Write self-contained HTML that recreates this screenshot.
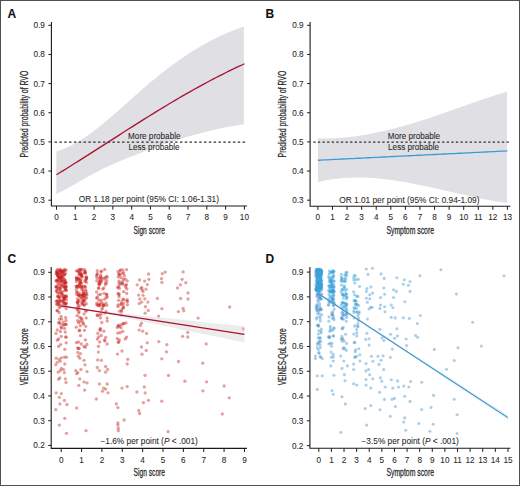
<!DOCTYPE html>
<html><head><meta charset="utf-8"><style>
html,body{margin:0;padding:0;background:#fff;}
body{width:520px;height:486px;overflow:hidden;}
svg{display:block;font-family:"Liberation Sans", sans-serif;}
text{stroke:#2a2a2a;stroke-width:0.08px;}
</style></head><body>
<svg width="520" height="486" viewBox="0 0 520 486">
<rect x="0" y="0" width="520" height="486" fill="#fff"/>
<path d="M56.30 151.53 L58.67 150.80 L61.05 149.97 L63.42 149.06 L65.80 148.07 L68.17 146.99 L70.55 145.83 L72.92 144.60 L75.30 143.30 L77.67 141.92 L80.05 140.48 L82.42 138.98 L84.80 137.41 L87.17 135.79 L89.55 134.12 L91.92 132.39 L94.29 130.61 L96.67 128.79 L99.04 126.93 L101.42 125.03 L103.79 123.09 L106.17 121.12 L108.54 119.12 L110.92 117.10 L113.29 115.05 L115.67 112.98 L118.04 110.89 L120.42 108.79 L122.79 106.68 L125.17 104.56 L127.54 102.44 L129.92 100.31 L132.29 98.19 L134.66 96.07 L137.04 93.95 L139.41 91.85 L141.79 89.76 L144.16 87.69 L146.54 85.64 L148.91 83.61 L151.29 81.60 L153.66 79.63 L156.04 77.68 L158.41 75.75 L160.79 73.86 L163.16 71.99 L165.54 70.15 L167.91 68.34 L170.28 66.56 L172.66 64.81 L175.03 63.08 L177.41 61.39 L179.78 59.72 L182.16 58.08 L184.53 56.48 L186.91 54.90 L189.28 53.35 L191.66 51.84 L194.03 50.35 L196.41 48.89 L198.78 47.47 L201.16 46.07 L203.53 44.71 L205.91 43.38 L208.28 42.08 L210.65 40.81 L213.03 39.58 L215.40 38.38 L217.78 37.21 L220.15 36.07 L222.53 34.96 L224.90 33.89 L227.28 32.85 L229.65 31.85 L232.03 30.88 L234.40 29.94 L236.78 29.04 L239.15 28.17 L241.53 27.33 L243.90 26.53 L243.90 124.18 L241.53 124.55 L239.15 124.93 L236.78 125.33 L234.40 125.75 L232.03 126.18 L229.65 126.62 L227.28 127.08 L224.90 127.55 L222.53 128.04 L220.15 128.55 L217.78 129.07 L215.40 129.60 L213.03 130.14 L210.65 130.70 L208.28 131.28 L205.91 131.86 L203.53 132.47 L201.16 133.08 L198.78 133.71 L196.41 134.35 L194.03 135.00 L191.66 135.67 L189.28 136.35 L186.91 137.04 L184.53 137.74 L182.16 138.46 L179.78 139.19 L177.41 139.93 L175.03 140.68 L172.66 141.45 L170.28 142.22 L167.91 143.01 L165.54 143.81 L163.16 144.62 L160.79 145.45 L158.41 146.28 L156.04 147.12 L153.66 147.98 L151.29 148.84 L148.91 149.72 L146.54 150.60 L144.16 151.50 L141.79 152.41 L139.41 153.32 L137.04 154.25 L134.66 155.19 L132.29 156.13 L129.92 157.09 L127.54 158.05 L125.17 159.03 L122.79 160.01 L120.42 161.00 L118.04 162.00 L115.67 163.01 L113.29 164.04 L110.92 165.09 L108.54 166.15 L106.17 167.24 L103.79 168.36 L101.42 169.51 L99.04 170.68 L96.67 171.89 L94.29 173.14 L91.92 174.41 L89.55 175.71 L87.17 177.04 L84.80 178.38 L82.42 179.73 L80.05 181.10 L77.67 182.46 L75.30 183.83 L72.92 185.20 L70.55 186.56 L68.17 187.90 L65.80 189.23 L63.42 190.54 L61.05 191.82 L58.67 193.06 L56.30 194.27 Z" fill="#e0dfe4"/>
<path d="M317.90 138.25 L320.29 138.33 L322.69 138.39 L325.08 138.41 L327.47 138.41 L329.87 138.37 L332.26 138.31 L334.66 138.21 L337.05 138.09 L339.44 137.95 L341.84 137.77 L344.23 137.57 L346.62 137.34 L349.02 137.09 L351.41 136.82 L353.81 136.52 L356.20 136.20 L358.59 135.85 L360.99 135.48 L363.38 135.10 L365.77 134.69 L368.17 134.26 L370.56 133.81 L372.95 133.34 L375.35 132.86 L377.74 132.36 L380.14 131.84 L382.53 131.30 L384.92 130.75 L387.32 130.18 L389.71 129.60 L392.10 129.00 L394.50 128.39 L396.89 127.76 L399.28 127.12 L401.68 126.46 L404.07 125.79 L406.47 125.11 L408.86 124.41 L411.25 123.70 L413.65 122.98 L416.04 122.25 L418.43 121.51 L420.83 120.75 L423.22 119.99 L425.62 119.21 L428.01 118.43 L430.40 117.63 L432.80 116.83 L435.19 116.02 L437.58 115.21 L439.98 114.39 L442.37 113.56 L444.76 112.73 L447.16 111.89 L449.55 111.06 L451.95 110.21 L454.34 109.37 L456.73 108.52 L459.13 107.68 L461.52 106.83 L463.91 105.99 L466.31 105.14 L468.70 104.30 L471.09 103.46 L473.49 102.62 L475.88 101.78 L478.28 100.95 L480.67 100.13 L483.06 99.31 L485.46 98.50 L487.85 97.70 L490.24 96.91 L492.64 96.13 L495.03 95.36 L497.43 94.61 L499.82 93.87 L502.21 93.15 L504.61 92.44 L507.00 91.75 L507.00 203.07 L504.61 202.73 L502.21 202.36 L499.82 201.98 L497.43 201.58 L495.03 201.17 L492.64 200.75 L490.24 200.31 L487.85 199.86 L485.46 199.40 L483.06 198.92 L480.67 198.44 L478.28 197.94 L475.88 197.44 L473.49 196.93 L471.09 196.41 L468.70 195.89 L466.31 195.36 L463.91 194.82 L461.52 194.28 L459.13 193.74 L456.73 193.19 L454.34 192.64 L451.95 192.09 L449.55 191.54 L447.16 190.99 L444.76 190.44 L442.37 189.89 L439.98 189.35 L437.58 188.80 L435.19 188.26 L432.80 187.73 L430.40 187.20 L428.01 186.68 L425.62 186.16 L423.22 185.65 L420.83 185.15 L418.43 184.66 L416.04 184.18 L413.65 183.71 L411.25 183.25 L408.86 182.80 L406.47 182.37 L404.07 181.95 L401.68 181.54 L399.28 181.15 L396.89 180.78 L394.50 180.42 L392.10 180.07 L389.71 179.75 L387.32 179.44 L384.92 179.16 L382.53 178.89 L380.14 178.65 L377.74 178.43 L375.35 178.23 L372.95 178.05 L370.56 177.90 L368.17 177.77 L365.77 177.67 L363.38 177.59 L360.99 177.54 L358.59 177.52 L356.20 177.52 L353.81 177.56 L351.41 177.63 L349.02 177.72 L346.62 177.85 L344.23 178.01 L341.84 178.20 L339.44 178.43 L337.05 178.69 L334.66 178.99 L332.26 179.32 L329.87 179.69 L327.47 180.09 L325.08 180.54 L322.69 181.02 L320.29 181.54 L317.90 182.11 Z" fill="#e0dfe4"/>
<line x1="54.60" y1="142.00" x2="247.00" y2="142.00" stroke="#2e2e2e" stroke-width="1.25" stroke-dasharray="2.45 2.37"/>
<line x1="313.30" y1="142.00" x2="510.40" y2="142.00" stroke="#2e2e2e" stroke-width="1.25" stroke-dasharray="2.3 2.3"/>
<path d="M56.50 174.71 L59.63 172.79 L62.76 170.87 L65.89 168.93 L69.03 166.98 L72.16 165.03 L75.29 163.06 L78.42 161.09 L81.55 159.11 L84.69 157.13 L87.82 155.14 L90.95 153.14 L94.08 151.14 L97.21 149.14 L100.34 147.13 L103.47 145.12 L106.61 143.11 L109.74 141.10 L112.87 139.09 L116.00 137.08 L119.13 135.08 L122.27 133.07 L125.40 131.07 L128.53 129.07 L131.66 127.08 L134.79 125.09 L137.92 123.11 L141.06 121.14 L144.19 119.17 L147.32 117.22 L150.45 115.27 L153.58 113.33 L156.71 111.40 L159.84 109.49 L162.98 107.58 L166.11 105.69 L169.24 103.81 L172.37 101.94 L175.50 100.09 L178.63 98.25 L181.77 96.43 L184.90 94.63 L188.03 92.83 L191.16 91.06 L194.29 89.30 L197.42 87.56 L200.56 85.84 L203.69 84.14 L206.82 82.45 L209.95 80.79 L213.08 79.14 L216.22 77.51 L219.35 75.90 L222.48 74.31 L225.61 72.75 L228.74 71.20 L231.87 69.67 L235.00 68.17 L238.14 66.68 L241.27 65.22 L244.40 63.77" fill="none" stroke="#a8132f" stroke-width="1.3"/>
<path d="M317.90 160.24 L321.06 160.09 L324.22 159.93 L327.38 159.78 L330.54 159.62 L333.69 159.47 L336.85 159.31 L340.01 159.16 L343.17 159.00 L346.33 158.85 L349.49 158.69 L352.65 158.54 L355.81 158.38 L358.97 158.23 L362.13 158.07 L365.28 157.92 L368.44 157.76 L371.60 157.61 L374.76 157.45 L377.92 157.29 L381.08 157.14 L384.24 156.98 L387.40 156.83 L390.56 156.67 L393.72 156.52 L396.88 156.36 L400.03 156.21 L403.19 156.05 L406.35 155.90 L409.51 155.74 L412.67 155.58 L415.83 155.43 L418.99 155.27 L422.15 155.12 L425.31 154.96 L428.46 154.80 L431.62 154.65 L434.78 154.49 L437.94 154.34 L441.10 154.18 L444.26 154.02 L447.42 153.87 L450.58 153.71 L453.74 153.56 L456.90 153.40 L460.05 153.24 L463.21 153.09 L466.37 152.93 L469.53 152.78 L472.69 152.62 L475.85 152.46 L479.01 152.31 L482.17 152.15 L485.33 151.99 L488.49 151.84 L491.64 151.68 L494.80 151.53 L497.96 151.37 L501.12 151.21 L504.28 151.06 L507.44 150.90" fill="none" stroke="#3a9ad6" stroke-width="1.3"/>
<path d="M51.40 22.00 V206.00 H247.00" fill="none" stroke="#1a1a1a" stroke-width="1.1"/>
<line x1="48.40" y1="200.20" x2="51.40" y2="200.20" stroke="#1a1a1a" stroke-width="1"/>
<text x="44.90" y="203.10" text-anchor="end" font-size="8.2" fill="#2a2a2a">0.3</text>
<line x1="48.40" y1="171.05" x2="51.40" y2="171.05" stroke="#1a1a1a" stroke-width="1"/>
<text x="44.90" y="173.95" text-anchor="end" font-size="8.2" fill="#2a2a2a">0.4</text>
<line x1="48.40" y1="141.90" x2="51.40" y2="141.90" stroke="#1a1a1a" stroke-width="1"/>
<text x="44.90" y="144.80" text-anchor="end" font-size="8.2" fill="#2a2a2a">0.5</text>
<line x1="48.40" y1="112.75" x2="51.40" y2="112.75" stroke="#1a1a1a" stroke-width="1"/>
<text x="44.90" y="115.65" text-anchor="end" font-size="8.2" fill="#2a2a2a">0.6</text>
<line x1="48.40" y1="83.60" x2="51.40" y2="83.60" stroke="#1a1a1a" stroke-width="1"/>
<text x="44.90" y="86.50" text-anchor="end" font-size="8.2" fill="#2a2a2a">0.7</text>
<line x1="48.40" y1="54.45" x2="51.40" y2="54.45" stroke="#1a1a1a" stroke-width="1"/>
<text x="44.90" y="57.35" text-anchor="end" font-size="8.2" fill="#2a2a2a">0.8</text>
<line x1="48.40" y1="25.30" x2="51.40" y2="25.30" stroke="#1a1a1a" stroke-width="1"/>
<text x="44.90" y="28.20" text-anchor="end" font-size="8.2" fill="#2a2a2a">0.9</text>
<line x1="56.50" y1="206.00" x2="56.50" y2="209.60" stroke="#1a1a1a" stroke-width="1"/>
<text x="56.50" y="220.20" text-anchor="middle" font-size="8.2" fill="#2a2a2a">0</text>
<line x1="75.29" y1="206.00" x2="75.29" y2="209.60" stroke="#1a1a1a" stroke-width="1"/>
<text x="75.29" y="220.20" text-anchor="middle" font-size="8.2" fill="#2a2a2a">1</text>
<line x1="94.08" y1="206.00" x2="94.08" y2="209.60" stroke="#1a1a1a" stroke-width="1"/>
<text x="94.08" y="220.20" text-anchor="middle" font-size="8.2" fill="#2a2a2a">2</text>
<line x1="112.87" y1="206.00" x2="112.87" y2="209.60" stroke="#1a1a1a" stroke-width="1"/>
<text x="112.87" y="220.20" text-anchor="middle" font-size="8.2" fill="#2a2a2a">3</text>
<line x1="131.66" y1="206.00" x2="131.66" y2="209.60" stroke="#1a1a1a" stroke-width="1"/>
<text x="131.66" y="220.20" text-anchor="middle" font-size="8.2" fill="#2a2a2a">4</text>
<line x1="150.45" y1="206.00" x2="150.45" y2="209.60" stroke="#1a1a1a" stroke-width="1"/>
<text x="150.45" y="220.20" text-anchor="middle" font-size="8.2" fill="#2a2a2a">5</text>
<line x1="169.24" y1="206.00" x2="169.24" y2="209.60" stroke="#1a1a1a" stroke-width="1"/>
<text x="169.24" y="220.20" text-anchor="middle" font-size="8.2" fill="#2a2a2a">6</text>
<line x1="188.03" y1="206.00" x2="188.03" y2="209.60" stroke="#1a1a1a" stroke-width="1"/>
<text x="188.03" y="220.20" text-anchor="middle" font-size="8.2" fill="#2a2a2a">7</text>
<line x1="206.82" y1="206.00" x2="206.82" y2="209.60" stroke="#1a1a1a" stroke-width="1"/>
<text x="206.82" y="220.20" text-anchor="middle" font-size="8.2" fill="#2a2a2a">8</text>
<line x1="225.61" y1="206.00" x2="225.61" y2="209.60" stroke="#1a1a1a" stroke-width="1"/>
<text x="225.61" y="220.20" text-anchor="middle" font-size="8.2" fill="#2a2a2a">9</text>
<line x1="244.40" y1="206.00" x2="244.40" y2="209.60" stroke="#1a1a1a" stroke-width="1"/>
<text x="244.40" y="220.20" text-anchor="middle" font-size="8.2" fill="#2a2a2a">10</text>
<path d="M310.10 22.00 V206.20 H510.40" fill="none" stroke="#1a1a1a" stroke-width="1.1"/>
<line x1="307.10" y1="200.20" x2="310.10" y2="200.20" stroke="#1a1a1a" stroke-width="1"/>
<text x="303.60" y="203.10" text-anchor="end" font-size="8.2" fill="#2a2a2a">0.3</text>
<line x1="307.10" y1="171.05" x2="310.10" y2="171.05" stroke="#1a1a1a" stroke-width="1"/>
<text x="303.60" y="173.95" text-anchor="end" font-size="8.2" fill="#2a2a2a">0.4</text>
<line x1="307.10" y1="141.90" x2="310.10" y2="141.90" stroke="#1a1a1a" stroke-width="1"/>
<text x="303.60" y="144.80" text-anchor="end" font-size="8.2" fill="#2a2a2a">0.5</text>
<line x1="307.10" y1="112.75" x2="310.10" y2="112.75" stroke="#1a1a1a" stroke-width="1"/>
<text x="303.60" y="115.65" text-anchor="end" font-size="8.2" fill="#2a2a2a">0.6</text>
<line x1="307.10" y1="83.60" x2="310.10" y2="83.60" stroke="#1a1a1a" stroke-width="1"/>
<text x="303.60" y="86.50" text-anchor="end" font-size="8.2" fill="#2a2a2a">0.7</text>
<line x1="307.10" y1="54.45" x2="310.10" y2="54.45" stroke="#1a1a1a" stroke-width="1"/>
<text x="303.60" y="57.35" text-anchor="end" font-size="8.2" fill="#2a2a2a">0.8</text>
<line x1="307.10" y1="25.30" x2="310.10" y2="25.30" stroke="#1a1a1a" stroke-width="1"/>
<text x="303.60" y="28.20" text-anchor="end" font-size="8.2" fill="#2a2a2a">0.9</text>
<line x1="317.90" y1="206.20" x2="317.90" y2="209.80" stroke="#1a1a1a" stroke-width="1"/>
<text x="317.90" y="220.40" text-anchor="middle" font-size="8.2" fill="#2a2a2a">0</text>
<line x1="332.48" y1="206.20" x2="332.48" y2="209.80" stroke="#1a1a1a" stroke-width="1"/>
<text x="332.48" y="220.40" text-anchor="middle" font-size="8.2" fill="#2a2a2a">1</text>
<line x1="347.06" y1="206.20" x2="347.06" y2="209.80" stroke="#1a1a1a" stroke-width="1"/>
<text x="347.06" y="220.40" text-anchor="middle" font-size="8.2" fill="#2a2a2a">2</text>
<line x1="361.64" y1="206.20" x2="361.64" y2="209.80" stroke="#1a1a1a" stroke-width="1"/>
<text x="361.64" y="220.40" text-anchor="middle" font-size="8.2" fill="#2a2a2a">3</text>
<line x1="376.22" y1="206.20" x2="376.22" y2="209.80" stroke="#1a1a1a" stroke-width="1"/>
<text x="376.22" y="220.40" text-anchor="middle" font-size="8.2" fill="#2a2a2a">4</text>
<line x1="390.80" y1="206.20" x2="390.80" y2="209.80" stroke="#1a1a1a" stroke-width="1"/>
<text x="390.80" y="220.40" text-anchor="middle" font-size="8.2" fill="#2a2a2a">5</text>
<line x1="405.38" y1="206.20" x2="405.38" y2="209.80" stroke="#1a1a1a" stroke-width="1"/>
<text x="405.38" y="220.40" text-anchor="middle" font-size="8.2" fill="#2a2a2a">6</text>
<line x1="419.96" y1="206.20" x2="419.96" y2="209.80" stroke="#1a1a1a" stroke-width="1"/>
<text x="419.96" y="220.40" text-anchor="middle" font-size="8.2" fill="#2a2a2a">7</text>
<line x1="434.54" y1="206.20" x2="434.54" y2="209.80" stroke="#1a1a1a" stroke-width="1"/>
<text x="434.54" y="220.40" text-anchor="middle" font-size="8.2" fill="#2a2a2a">8</text>
<line x1="449.12" y1="206.20" x2="449.12" y2="209.80" stroke="#1a1a1a" stroke-width="1"/>
<text x="449.12" y="220.40" text-anchor="middle" font-size="8.2" fill="#2a2a2a">9</text>
<line x1="463.70" y1="206.20" x2="463.70" y2="209.80" stroke="#1a1a1a" stroke-width="1"/>
<text x="463.70" y="220.40" text-anchor="middle" font-size="8.2" fill="#2a2a2a">10</text>
<line x1="478.28" y1="206.20" x2="478.28" y2="209.80" stroke="#1a1a1a" stroke-width="1"/>
<text x="478.28" y="220.40" text-anchor="middle" font-size="8.2" fill="#2a2a2a">11</text>
<line x1="492.86" y1="206.20" x2="492.86" y2="209.80" stroke="#1a1a1a" stroke-width="1"/>
<text x="492.86" y="220.40" text-anchor="middle" font-size="8.2" fill="#2a2a2a">12</text>
<line x1="507.44" y1="206.20" x2="507.44" y2="209.80" stroke="#1a1a1a" stroke-width="1"/>
<text x="507.44" y="220.40" text-anchor="middle" font-size="8.2" fill="#2a2a2a">13</text>
<path d="M51.20 267.00 V448.40 H246.90" fill="none" stroke="#1a1a1a" stroke-width="1.1"/>
<line x1="48.20" y1="445.41" x2="51.20" y2="445.41" stroke="#1a1a1a" stroke-width="1"/>
<text x="44.70" y="448.31" text-anchor="end" font-size="8.2" fill="#2a2a2a">0.2</text>
<line x1="48.20" y1="420.68" x2="51.20" y2="420.68" stroke="#1a1a1a" stroke-width="1"/>
<text x="44.70" y="423.58" text-anchor="end" font-size="8.2" fill="#2a2a2a">0.3</text>
<line x1="48.20" y1="395.95" x2="51.20" y2="395.95" stroke="#1a1a1a" stroke-width="1"/>
<text x="44.70" y="398.85" text-anchor="end" font-size="8.2" fill="#2a2a2a">0.4</text>
<line x1="48.20" y1="371.22" x2="51.20" y2="371.22" stroke="#1a1a1a" stroke-width="1"/>
<text x="44.70" y="374.12" text-anchor="end" font-size="8.2" fill="#2a2a2a">0.5</text>
<line x1="48.20" y1="346.49" x2="51.20" y2="346.49" stroke="#1a1a1a" stroke-width="1"/>
<text x="44.70" y="349.39" text-anchor="end" font-size="8.2" fill="#2a2a2a">0.6</text>
<line x1="48.20" y1="321.76" x2="51.20" y2="321.76" stroke="#1a1a1a" stroke-width="1"/>
<text x="44.70" y="324.66" text-anchor="end" font-size="8.2" fill="#2a2a2a">0.7</text>
<line x1="48.20" y1="297.03" x2="51.20" y2="297.03" stroke="#1a1a1a" stroke-width="1"/>
<text x="44.70" y="299.93" text-anchor="end" font-size="8.2" fill="#2a2a2a">0.8</text>
<line x1="48.20" y1="272.30" x2="51.20" y2="272.30" stroke="#1a1a1a" stroke-width="1"/>
<text x="44.70" y="275.20" text-anchor="end" font-size="8.2" fill="#2a2a2a">0.9</text>
<line x1="61.20" y1="448.40" x2="61.20" y2="452.00" stroke="#1a1a1a" stroke-width="1"/>
<text x="61.20" y="462.60" text-anchor="middle" font-size="8.2" fill="#2a2a2a">0</text>
<line x1="81.56" y1="448.40" x2="81.56" y2="452.00" stroke="#1a1a1a" stroke-width="1"/>
<text x="81.56" y="462.60" text-anchor="middle" font-size="8.2" fill="#2a2a2a">1</text>
<line x1="101.92" y1="448.40" x2="101.92" y2="452.00" stroke="#1a1a1a" stroke-width="1"/>
<text x="101.92" y="462.60" text-anchor="middle" font-size="8.2" fill="#2a2a2a">2</text>
<line x1="122.28" y1="448.40" x2="122.28" y2="452.00" stroke="#1a1a1a" stroke-width="1"/>
<text x="122.28" y="462.60" text-anchor="middle" font-size="8.2" fill="#2a2a2a">3</text>
<line x1="142.64" y1="448.40" x2="142.64" y2="452.00" stroke="#1a1a1a" stroke-width="1"/>
<text x="142.64" y="462.60" text-anchor="middle" font-size="8.2" fill="#2a2a2a">4</text>
<line x1="163.00" y1="448.40" x2="163.00" y2="452.00" stroke="#1a1a1a" stroke-width="1"/>
<text x="163.00" y="462.60" text-anchor="middle" font-size="8.2" fill="#2a2a2a">5</text>
<line x1="183.36" y1="448.40" x2="183.36" y2="452.00" stroke="#1a1a1a" stroke-width="1"/>
<text x="183.36" y="462.60" text-anchor="middle" font-size="8.2" fill="#2a2a2a">6</text>
<line x1="203.72" y1="448.40" x2="203.72" y2="452.00" stroke="#1a1a1a" stroke-width="1"/>
<text x="203.72" y="462.60" text-anchor="middle" font-size="8.2" fill="#2a2a2a">7</text>
<line x1="224.08" y1="448.40" x2="224.08" y2="452.00" stroke="#1a1a1a" stroke-width="1"/>
<text x="224.08" y="462.60" text-anchor="middle" font-size="8.2" fill="#2a2a2a">8</text>
<line x1="244.44" y1="448.40" x2="244.44" y2="452.00" stroke="#1a1a1a" stroke-width="1"/>
<text x="244.44" y="462.60" text-anchor="middle" font-size="8.2" fill="#2a2a2a">9</text>
<path d="M309.90 267.00 V448.30 H510.40" fill="none" stroke="#1a1a1a" stroke-width="1.1"/>
<line x1="306.90" y1="445.63" x2="309.90" y2="445.63" stroke="#1a1a1a" stroke-width="1"/>
<text x="303.40" y="448.53" text-anchor="end" font-size="8.2" fill="#2a2a2a">0.2</text>
<line x1="306.90" y1="420.84" x2="309.90" y2="420.84" stroke="#1a1a1a" stroke-width="1"/>
<text x="303.40" y="423.74" text-anchor="end" font-size="8.2" fill="#2a2a2a">0.3</text>
<line x1="306.90" y1="396.05" x2="309.90" y2="396.05" stroke="#1a1a1a" stroke-width="1"/>
<text x="303.40" y="398.95" text-anchor="end" font-size="8.2" fill="#2a2a2a">0.4</text>
<line x1="306.90" y1="371.26" x2="309.90" y2="371.26" stroke="#1a1a1a" stroke-width="1"/>
<text x="303.40" y="374.16" text-anchor="end" font-size="8.2" fill="#2a2a2a">0.5</text>
<line x1="306.90" y1="346.47" x2="309.90" y2="346.47" stroke="#1a1a1a" stroke-width="1"/>
<text x="303.40" y="349.37" text-anchor="end" font-size="8.2" fill="#2a2a2a">0.6</text>
<line x1="306.90" y1="321.68" x2="309.90" y2="321.68" stroke="#1a1a1a" stroke-width="1"/>
<text x="303.40" y="324.58" text-anchor="end" font-size="8.2" fill="#2a2a2a">0.7</text>
<line x1="306.90" y1="296.89" x2="309.90" y2="296.89" stroke="#1a1a1a" stroke-width="1"/>
<text x="303.40" y="299.79" text-anchor="end" font-size="8.2" fill="#2a2a2a">0.8</text>
<line x1="306.90" y1="272.10" x2="309.90" y2="272.10" stroke="#1a1a1a" stroke-width="1"/>
<text x="303.40" y="275.00" text-anchor="end" font-size="8.2" fill="#2a2a2a">0.9</text>
<line x1="318.80" y1="448.30" x2="318.80" y2="451.90" stroke="#1a1a1a" stroke-width="1"/>
<text x="318.80" y="462.50" text-anchor="middle" font-size="8.2" fill="#2a2a2a">0</text>
<line x1="331.41" y1="448.30" x2="331.41" y2="451.90" stroke="#1a1a1a" stroke-width="1"/>
<text x="331.41" y="462.50" text-anchor="middle" font-size="8.2" fill="#2a2a2a">1</text>
<line x1="344.02" y1="448.30" x2="344.02" y2="451.90" stroke="#1a1a1a" stroke-width="1"/>
<text x="344.02" y="462.50" text-anchor="middle" font-size="8.2" fill="#2a2a2a">2</text>
<line x1="356.63" y1="448.30" x2="356.63" y2="451.90" stroke="#1a1a1a" stroke-width="1"/>
<text x="356.63" y="462.50" text-anchor="middle" font-size="8.2" fill="#2a2a2a">3</text>
<line x1="369.24" y1="448.30" x2="369.24" y2="451.90" stroke="#1a1a1a" stroke-width="1"/>
<text x="369.24" y="462.50" text-anchor="middle" font-size="8.2" fill="#2a2a2a">4</text>
<line x1="381.85" y1="448.30" x2="381.85" y2="451.90" stroke="#1a1a1a" stroke-width="1"/>
<text x="381.85" y="462.50" text-anchor="middle" font-size="8.2" fill="#2a2a2a">5</text>
<line x1="394.46" y1="448.30" x2="394.46" y2="451.90" stroke="#1a1a1a" stroke-width="1"/>
<text x="394.46" y="462.50" text-anchor="middle" font-size="8.2" fill="#2a2a2a">6</text>
<line x1="407.07" y1="448.30" x2="407.07" y2="451.90" stroke="#1a1a1a" stroke-width="1"/>
<text x="407.07" y="462.50" text-anchor="middle" font-size="8.2" fill="#2a2a2a">7</text>
<line x1="419.68" y1="448.30" x2="419.68" y2="451.90" stroke="#1a1a1a" stroke-width="1"/>
<text x="419.68" y="462.50" text-anchor="middle" font-size="8.2" fill="#2a2a2a">8</text>
<line x1="432.29" y1="448.30" x2="432.29" y2="451.90" stroke="#1a1a1a" stroke-width="1"/>
<text x="432.29" y="462.50" text-anchor="middle" font-size="8.2" fill="#2a2a2a">9</text>
<line x1="444.90" y1="448.30" x2="444.90" y2="451.90" stroke="#1a1a1a" stroke-width="1"/>
<text x="444.90" y="462.50" text-anchor="middle" font-size="8.2" fill="#2a2a2a">10</text>
<line x1="457.51" y1="448.30" x2="457.51" y2="451.90" stroke="#1a1a1a" stroke-width="1"/>
<text x="457.51" y="462.50" text-anchor="middle" font-size="8.2" fill="#2a2a2a">11</text>
<line x1="470.12" y1="448.30" x2="470.12" y2="451.90" stroke="#1a1a1a" stroke-width="1"/>
<text x="470.12" y="462.50" text-anchor="middle" font-size="8.2" fill="#2a2a2a">12</text>
<line x1="482.73" y1="448.30" x2="482.73" y2="451.90" stroke="#1a1a1a" stroke-width="1"/>
<text x="482.73" y="462.50" text-anchor="middle" font-size="8.2" fill="#2a2a2a">13</text>
<line x1="495.34" y1="448.30" x2="495.34" y2="451.90" stroke="#1a1a1a" stroke-width="1"/>
<text x="495.34" y="462.50" text-anchor="middle" font-size="8.2" fill="#2a2a2a">14</text>
<line x1="507.95" y1="448.30" x2="507.95" y2="451.90" stroke="#1a1a1a" stroke-width="1"/>
<text x="507.95" y="462.50" text-anchor="middle" font-size="8.2" fill="#2a2a2a">15</text>
<text transform="translate(27.80 114.10) rotate(-90) scale(0.689 1)" text-anchor="middle" font-size="10" fill="#2a2a2a" style="stroke-width:0.25px">Predicted probability of RVO</text>
<text transform="translate(286.40 114.10) rotate(-90) scale(0.689 1)" text-anchor="middle" font-size="10" fill="#2a2a2a" style="stroke-width:0.25px">Predicted probability of RVO</text>
<text transform="translate(149.20 233.50) scale(0.665 1)" text-anchor="middle" font-size="10" fill="#2a2a2a" style="stroke-width:0.25px">Sign score</text>
<text transform="translate(410.20 233.60) scale(0.687 1)" text-anchor="middle" font-size="10" fill="#2a2a2a" style="stroke-width:0.25px">Symptom score</text>
<text transform="translate(27.50 356.80) rotate(-90) scale(0.662 1)" text-anchor="middle" font-size="10" fill="#2a2a2a" style="stroke-width:0.25px">VEINES-QoL score</text>
<text transform="translate(286.20 356.80) rotate(-90) scale(0.662 1)" text-anchor="middle" font-size="10" fill="#2a2a2a" style="stroke-width:0.25px">VEINES-QoL score</text>
<text transform="translate(149.30 476.00) scale(0.665 1)" text-anchor="middle" font-size="10" fill="#2a2a2a" style="stroke-width:0.25px">Sign score</text>
<text transform="translate(410.20 476.00) scale(0.687 1)" text-anchor="middle" font-size="10" fill="#2a2a2a" style="stroke-width:0.25px">Symptom score</text>
<text x="7.4" y="17.7" font-size="12" font-weight="bold" fill="#111">A</text>
<text x="265.6" y="17.7" font-size="12" font-weight="bold" fill="#111">B</text>
<text x="7.4" y="263.0" font-size="12" font-weight="bold" fill="#111">C</text>
<text x="265.6" y="262.9" font-size="12" font-weight="bold" fill="#111">D</text>
<text x="148.9" y="201.9" text-anchor="middle" font-size="8.3" fill="#2a2a2a">OR 1.18 per point (95% CI: 1.06-1.31)</text>
<text x="409.4" y="202.6" text-anchor="middle" font-size="8.3" fill="#2a2a2a">OR 1.01 per point (95% CI: 0.94-1.09)</text>
<text x="128.1" y="138.6" font-size="8.15" fill="#2a2a2a">More probable</text>
<text x="128.5" y="150.2" font-size="8.15" fill="#2a2a2a">Less probable</text>
<text x="387.7" y="138.6" font-size="8.15" fill="#2a2a2a">More probable</text>
<text x="388.1" y="150.2" font-size="8.15" fill="#2a2a2a">Less probable</text>
<text x="149.15" y="443.5" text-anchor="middle" font-size="8.3" fill="#2a2a2a">−1.6% per point (<tspan font-style="italic">P</tspan> &lt; .001)</text>
<text x="410.2" y="443.5" text-anchor="middle" font-size="8.3" fill="#2a2a2a">−3.5% per point (<tspan font-style="italic">P</tspan> &lt; .001)</text>
<g fill="#c8221f" fill-opacity="0.45"><circle cx="57.4" cy="279.9" r="1.65"/><circle cx="56.6" cy="290.6" r="1.65"/><circle cx="59.7" cy="286.8" r="1.65"/><circle cx="61.3" cy="271.2" r="1.65"/><circle cx="60.5" cy="270.6" r="1.65"/><circle cx="56.8" cy="271.6" r="1.65"/><circle cx="64.7" cy="283.2" r="1.65"/><circle cx="58.2" cy="273.4" r="1.65"/><circle cx="66.0" cy="289.8" r="1.65"/><circle cx="60.1" cy="288.2" r="1.65"/><circle cx="56.3" cy="301.2" r="1.65"/><circle cx="58.9" cy="297.4" r="1.65"/><circle cx="57.1" cy="274.0" r="1.65"/><circle cx="64.6" cy="279.4" r="1.65"/><circle cx="62.1" cy="275.2" r="1.65"/><circle cx="59.8" cy="290.2" r="1.65"/><circle cx="56.5" cy="287.2" r="1.65"/><circle cx="58.0" cy="271.3" r="1.65"/><circle cx="60.4" cy="291.5" r="1.65"/><circle cx="62.1" cy="279.6" r="1.65"/><circle cx="59.0" cy="284.1" r="1.65"/><circle cx="63.3" cy="295.3" r="1.65"/><circle cx="62.0" cy="277.3" r="1.65"/><circle cx="65.3" cy="286.5" r="1.65"/><circle cx="58.9" cy="293.1" r="1.65"/><circle cx="57.1" cy="301.3" r="1.65"/><circle cx="64.0" cy="283.0" r="1.65"/><circle cx="61.1" cy="274.3" r="1.65"/><circle cx="63.0" cy="270.6" r="1.65"/><circle cx="62.0" cy="294.3" r="1.65"/><circle cx="59.2" cy="297.9" r="1.65"/><circle cx="62.2" cy="292.0" r="1.65"/><circle cx="60.7" cy="288.3" r="1.65"/><circle cx="66.0" cy="296.8" r="1.65"/><circle cx="63.0" cy="284.8" r="1.65"/><circle cx="63.4" cy="271.3" r="1.65"/><circle cx="66.5" cy="290.5" r="1.65"/><circle cx="58.9" cy="296.2" r="1.65"/><circle cx="63.0" cy="281.9" r="1.65"/><circle cx="60.8" cy="270.1" r="1.65"/><circle cx="57.1" cy="274.8" r="1.65"/><circle cx="64.1" cy="271.3" r="1.65"/><circle cx="58.5" cy="273.6" r="1.65"/><circle cx="65.2" cy="282.1" r="1.65"/><circle cx="60.7" cy="272.0" r="1.65"/><circle cx="65.3" cy="287.3" r="1.65"/><circle cx="65.1" cy="296.1" r="1.65"/><circle cx="60.3" cy="278.4" r="1.65"/><circle cx="65.3" cy="281.0" r="1.65"/><circle cx="57.4" cy="300.6" r="1.65"/><circle cx="58.3" cy="275.1" r="1.65"/><circle cx="61.0" cy="276.9" r="1.65"/><circle cx="58.6" cy="288.6" r="1.65"/><circle cx="60.3" cy="269.5" r="1.65"/><circle cx="61.9" cy="281.4" r="1.65"/><circle cx="63.3" cy="300.4" r="1.65"/><circle cx="62.5" cy="286.2" r="1.65"/><circle cx="56.4" cy="291.4" r="1.65"/><circle cx="64.2" cy="298.7" r="1.65"/><circle cx="64.4" cy="297.9" r="1.65"/><circle cx="60.1" cy="282.1" r="1.65"/><circle cx="62.7" cy="272.7" r="1.65"/><circle cx="56.5" cy="271.4" r="1.65"/><circle cx="57.6" cy="276.1" r="1.65"/><circle cx="56.4" cy="280.4" r="1.65"/><circle cx="57.4" cy="269.3" r="1.65"/><circle cx="59.7" cy="272.6" r="1.65"/><circle cx="65.2" cy="270.2" r="1.65"/><circle cx="57.4" cy="289.4" r="1.65"/><circle cx="59.6" cy="277.6" r="1.65"/><circle cx="57.1" cy="281.2" r="1.65"/><circle cx="66.5" cy="297.0" r="1.65"/><circle cx="61.0" cy="284.5" r="1.65"/><circle cx="56.9" cy="272.1" r="1.65"/><circle cx="58.7" cy="280.5" r="1.65"/><circle cx="57.5" cy="296.4" r="1.65"/><circle cx="66.1" cy="270.1" r="1.65"/><circle cx="57.4" cy="286.6" r="1.65"/><circle cx="56.1" cy="287.1" r="1.65"/><circle cx="66.4" cy="286.6" r="1.65"/><circle cx="63.3" cy="297.5" r="1.65"/><circle cx="59.8" cy="277.9" r="1.65"/><circle cx="64.1" cy="274.8" r="1.65"/><circle cx="64.2" cy="286.7" r="1.65"/><circle cx="58.2" cy="280.1" r="1.65"/><circle cx="66.4" cy="295.8" r="1.65"/><circle cx="64.5" cy="297.2" r="1.65"/><circle cx="63.8" cy="296.0" r="1.65"/><circle cx="61.4" cy="276.7" r="1.65"/><circle cx="56.1" cy="280.9" r="1.65"/><circle cx="58.8" cy="270.2" r="1.65"/><circle cx="63.3" cy="277.8" r="1.65"/><circle cx="60.6" cy="300.6" r="1.65"/><circle cx="66.5" cy="299.9" r="1.65"/><circle cx="59.7" cy="300.5" r="1.65"/><circle cx="58.2" cy="276.5" r="1.65"/><circle cx="58.0" cy="275.8" r="1.65"/><circle cx="65.5" cy="289.7" r="1.65"/><circle cx="61.0" cy="296.8" r="1.65"/><circle cx="64.4" cy="290.6" r="1.65"/><circle cx="62.9" cy="272.1" r="1.65"/><circle cx="64.2" cy="299.0" r="1.65"/><circle cx="61.0" cy="293.8" r="1.65"/><circle cx="64.3" cy="275.2" r="1.65"/><circle cx="64.4" cy="280.2" r="1.65"/><circle cx="60.1" cy="301.1" r="1.65"/><circle cx="66.0" cy="282.4" r="1.65"/><circle cx="57.6" cy="293.0" r="1.65"/><circle cx="57.4" cy="273.5" r="1.65"/><circle cx="64.5" cy="298.9" r="1.65"/><circle cx="64.7" cy="274.1" r="1.65"/><circle cx="62.9" cy="301.3" r="1.65"/><circle cx="61.7" cy="280.8" r="1.65"/><circle cx="56.0" cy="273.6" r="1.65"/><circle cx="62.8" cy="301.0" r="1.65"/><circle cx="65.9" cy="286.5" r="1.65"/><circle cx="65.2" cy="283.5" r="1.65"/><circle cx="58.1" cy="296.3" r="1.65"/><circle cx="59.0" cy="277.6" r="1.65"/><circle cx="62.1" cy="277.2" r="1.65"/><circle cx="60.3" cy="277.8" r="1.65"/><circle cx="65.6" cy="273.6" r="1.65"/><circle cx="60.7" cy="280.9" r="1.65"/><circle cx="65.6" cy="288.4" r="1.65"/><circle cx="65.7" cy="283.1" r="1.65"/><circle cx="61.5" cy="285.7" r="1.65"/><circle cx="56.0" cy="286.4" r="1.65"/><circle cx="57.8" cy="283.7" r="1.65"/><circle cx="64.4" cy="269.5" r="1.65"/><circle cx="60.9" cy="275.0" r="1.65"/><circle cx="61.8" cy="293.0" r="1.65"/><circle cx="61.4" cy="280.0" r="1.65"/><circle cx="64.3" cy="287.5" r="1.65"/><circle cx="61.9" cy="272.8" r="1.65"/><circle cx="58.8" cy="277.4" r="1.65"/><circle cx="61.3" cy="336.3" r="1.65"/><circle cx="64.0" cy="324.6" r="1.65"/><circle cx="60.6" cy="344.6" r="1.65"/><circle cx="61.3" cy="327.3" r="1.65"/><circle cx="63.3" cy="322.1" r="1.65"/><circle cx="61.6" cy="319.1" r="1.65"/><circle cx="66.0" cy="320.4" r="1.65"/><circle cx="65.3" cy="332.1" r="1.65"/><circle cx="58.6" cy="346.4" r="1.65"/><circle cx="66.0" cy="324.5" r="1.65"/><circle cx="57.3" cy="340.2" r="1.65"/><circle cx="60.6" cy="305.1" r="1.65"/><circle cx="58.4" cy="303.6" r="1.65"/><circle cx="63.0" cy="303.6" r="1.65"/><circle cx="65.5" cy="336.9" r="1.65"/><circle cx="63.5" cy="306.2" r="1.65"/><circle cx="57.3" cy="329.9" r="1.65"/><circle cx="66.2" cy="342.8" r="1.65"/><circle cx="66.1" cy="308.7" r="1.65"/><circle cx="61.1" cy="316.5" r="1.65"/><circle cx="64.8" cy="349.3" r="1.65"/><circle cx="60.5" cy="306.5" r="1.65"/><circle cx="59.5" cy="322.3" r="1.65"/><circle cx="59.2" cy="307.7" r="1.65"/><circle cx="56.0" cy="333.4" r="1.65"/><circle cx="60.6" cy="324.2" r="1.65"/><circle cx="59.4" cy="302.2" r="1.65"/><circle cx="61.3" cy="328.0" r="1.65"/><circle cx="66.4" cy="303.3" r="1.65"/><circle cx="66.3" cy="337.2" r="1.65"/><circle cx="58.7" cy="304.5" r="1.65"/><circle cx="64.2" cy="302.7" r="1.65"/><circle cx="57.2" cy="310.7" r="1.65"/><circle cx="65.6" cy="317.6" r="1.65"/><circle cx="58.6" cy="339.0" r="1.65"/><circle cx="65.7" cy="306.0" r="1.65"/><circle cx="63.4" cy="325.1" r="1.65"/><circle cx="56.4" cy="304.1" r="1.65"/><circle cx="60.4" cy="331.5" r="1.65"/><circle cx="65.9" cy="303.6" r="1.65"/><circle cx="64.5" cy="328.5" r="1.65"/><circle cx="65.0" cy="303.9" r="1.65"/><circle cx="65.1" cy="303.4" r="1.65"/><circle cx="59.5" cy="319.2" r="1.65"/><circle cx="65.8" cy="324.2" r="1.65"/><circle cx="57.2" cy="310.6" r="1.65"/><circle cx="58.4" cy="322.8" r="1.65"/><circle cx="57.5" cy="304.7" r="1.65"/><circle cx="58.0" cy="303.0" r="1.65"/><circle cx="59.1" cy="312.5" r="1.65"/><circle cx="79.3" cy="296.0" r="1.65"/><circle cx="78.1" cy="286.9" r="1.65"/><circle cx="76.4" cy="281.5" r="1.65"/><circle cx="76.3" cy="278.1" r="1.65"/><circle cx="82.1" cy="295.1" r="1.65"/><circle cx="81.3" cy="276.0" r="1.65"/><circle cx="77.3" cy="302.2" r="1.65"/><circle cx="80.8" cy="298.1" r="1.65"/><circle cx="85.2" cy="286.7" r="1.65"/><circle cx="81.6" cy="283.1" r="1.65"/><circle cx="86.8" cy="293.5" r="1.65"/><circle cx="85.1" cy="281.4" r="1.65"/><circle cx="83.0" cy="294.2" r="1.65"/><circle cx="79.9" cy="283.5" r="1.65"/><circle cx="77.6" cy="271.2" r="1.65"/><circle cx="84.2" cy="271.8" r="1.65"/><circle cx="77.9" cy="278.3" r="1.65"/><circle cx="85.2" cy="272.3" r="1.65"/><circle cx="83.4" cy="299.9" r="1.65"/><circle cx="78.8" cy="279.2" r="1.65"/><circle cx="81.1" cy="279.6" r="1.65"/><circle cx="81.0" cy="274.9" r="1.65"/><circle cx="86.5" cy="278.6" r="1.65"/><circle cx="82.1" cy="303.5" r="1.65"/><circle cx="86.6" cy="277.9" r="1.65"/><circle cx="80.0" cy="280.2" r="1.65"/><circle cx="80.3" cy="269.4" r="1.65"/><circle cx="81.6" cy="286.0" r="1.65"/><circle cx="81.6" cy="276.4" r="1.65"/><circle cx="79.0" cy="269.5" r="1.65"/><circle cx="80.5" cy="272.5" r="1.65"/><circle cx="76.4" cy="270.8" r="1.65"/><circle cx="78.7" cy="280.0" r="1.65"/><circle cx="81.9" cy="289.9" r="1.65"/><circle cx="83.3" cy="295.7" r="1.65"/><circle cx="85.7" cy="294.5" r="1.65"/><circle cx="79.7" cy="283.0" r="1.65"/><circle cx="77.8" cy="303.9" r="1.65"/><circle cx="83.1" cy="294.8" r="1.65"/><circle cx="85.2" cy="270.9" r="1.65"/><circle cx="82.9" cy="300.7" r="1.65"/><circle cx="84.9" cy="295.1" r="1.65"/><circle cx="81.8" cy="274.2" r="1.65"/><circle cx="85.2" cy="287.0" r="1.65"/><circle cx="85.1" cy="297.6" r="1.65"/><circle cx="85.8" cy="289.8" r="1.65"/><circle cx="83.6" cy="293.3" r="1.65"/><circle cx="76.5" cy="277.4" r="1.65"/><circle cx="80.1" cy="274.0" r="1.65"/><circle cx="85.2" cy="273.0" r="1.65"/><circle cx="82.9" cy="288.9" r="1.65"/><circle cx="83.5" cy="291.3" r="1.65"/><circle cx="76.2" cy="286.5" r="1.65"/><circle cx="84.2" cy="297.3" r="1.65"/><circle cx="81.9" cy="287.0" r="1.65"/><circle cx="76.9" cy="292.5" r="1.65"/><circle cx="78.9" cy="295.2" r="1.65"/><circle cx="79.0" cy="271.9" r="1.65"/><circle cx="78.4" cy="294.9" r="1.65"/><circle cx="86.7" cy="295.3" r="1.65"/><circle cx="80.3" cy="286.7" r="1.65"/><circle cx="83.5" cy="286.2" r="1.65"/><circle cx="82.8" cy="296.3" r="1.65"/><circle cx="77.0" cy="291.9" r="1.65"/><circle cx="78.9" cy="274.5" r="1.65"/><circle cx="79.4" cy="295.4" r="1.65"/><circle cx="76.3" cy="289.3" r="1.65"/><circle cx="79.1" cy="271.5" r="1.65"/><circle cx="83.6" cy="292.9" r="1.65"/><circle cx="79.3" cy="293.1" r="1.65"/><circle cx="81.2" cy="287.5" r="1.65"/><circle cx="77.4" cy="285.7" r="1.65"/><circle cx="78.3" cy="300.7" r="1.65"/><circle cx="86.3" cy="303.7" r="1.65"/><circle cx="81.1" cy="269.9" r="1.65"/><circle cx="86.6" cy="298.1" r="1.65"/><circle cx="79.1" cy="285.1" r="1.65"/><circle cx="86.4" cy="276.7" r="1.65"/><circle cx="82.4" cy="276.7" r="1.65"/><circle cx="81.8" cy="274.3" r="1.65"/><circle cx="77.6" cy="302.8" r="1.65"/><circle cx="81.7" cy="298.1" r="1.65"/><circle cx="83.8" cy="300.5" r="1.65"/><circle cx="85.9" cy="277.5" r="1.65"/><circle cx="76.4" cy="286.4" r="1.65"/><circle cx="81.5" cy="269.5" r="1.65"/><circle cx="79.4" cy="285.2" r="1.65"/><circle cx="79.9" cy="274.3" r="1.65"/><circle cx="85.2" cy="280.4" r="1.65"/><circle cx="84.3" cy="269.4" r="1.65"/><circle cx="77.5" cy="298.8" r="1.65"/><circle cx="83.9" cy="301.9" r="1.65"/><circle cx="79.3" cy="301.0" r="1.65"/><circle cx="80.4" cy="282.4" r="1.65"/><circle cx="82.5" cy="304.4" r="1.65"/><circle cx="80.8" cy="282.0" r="1.65"/><circle cx="76.7" cy="279.0" r="1.65"/><circle cx="85.2" cy="272.9" r="1.65"/><circle cx="86.3" cy="279.4" r="1.65"/><circle cx="79.0" cy="278.1" r="1.65"/><circle cx="78.2" cy="287.3" r="1.65"/><circle cx="86.5" cy="282.4" r="1.65"/><circle cx="84.9" cy="300.4" r="1.65"/><circle cx="86.0" cy="291.5" r="1.65"/><circle cx="82.1" cy="302.4" r="1.65"/><circle cx="76.7" cy="294.6" r="1.65"/><circle cx="81.0" cy="295.1" r="1.65"/><circle cx="83.1" cy="295.8" r="1.65"/><circle cx="76.7" cy="279.4" r="1.65"/><circle cx="77.5" cy="301.9" r="1.65"/><circle cx="79.9" cy="321.6" r="1.65"/><circle cx="84.1" cy="313.9" r="1.65"/><circle cx="79.0" cy="348.6" r="1.65"/><circle cx="79.4" cy="330.8" r="1.65"/><circle cx="80.4" cy="325.7" r="1.65"/><circle cx="77.9" cy="308.9" r="1.65"/><circle cx="85.9" cy="310.4" r="1.65"/><circle cx="78.5" cy="322.8" r="1.65"/><circle cx="86.9" cy="344.5" r="1.65"/><circle cx="77.7" cy="320.6" r="1.65"/><circle cx="77.1" cy="309.8" r="1.65"/><circle cx="77.1" cy="315.7" r="1.65"/><circle cx="79.0" cy="311.5" r="1.65"/><circle cx="85.7" cy="326.3" r="1.65"/><circle cx="80.6" cy="335.7" r="1.65"/><circle cx="81.8" cy="318.9" r="1.65"/><circle cx="79.8" cy="317.2" r="1.65"/><circle cx="79.2" cy="305.7" r="1.65"/><circle cx="77.5" cy="348.0" r="1.65"/><circle cx="83.0" cy="323.1" r="1.65"/><circle cx="78.5" cy="342.0" r="1.65"/><circle cx="78.8" cy="312.8" r="1.65"/><circle cx="81.0" cy="318.3" r="1.65"/><circle cx="85.3" cy="347.2" r="1.65"/><circle cx="76.4" cy="342.6" r="1.65"/><circle cx="83.8" cy="305.0" r="1.65"/><circle cx="81.3" cy="343.9" r="1.65"/><circle cx="76.2" cy="327.2" r="1.65"/><circle cx="86.2" cy="317.9" r="1.65"/><circle cx="85.4" cy="339.9" r="1.65"/><circle cx="78.8" cy="348.3" r="1.65"/><circle cx="77.8" cy="307.0" r="1.65"/><circle cx="83.5" cy="324.0" r="1.65"/><circle cx="84.0" cy="346.5" r="1.65"/><circle cx="84.4" cy="330.3" r="1.65"/><circle cx="82.1" cy="320.9" r="1.65"/><circle cx="84.6" cy="305.1" r="1.65"/><circle cx="86.1" cy="311.3" r="1.65"/><circle cx="79.4" cy="330.2" r="1.65"/><circle cx="78.9" cy="307.6" r="1.65"/><circle cx="104.1" cy="293.3" r="1.65"/><circle cx="97.3" cy="273.5" r="1.65"/><circle cx="102.8" cy="289.0" r="1.65"/><circle cx="98.9" cy="283.9" r="1.65"/><circle cx="96.6" cy="291.9" r="1.65"/><circle cx="101.5" cy="280.7" r="1.65"/><circle cx="103.5" cy="305.4" r="1.65"/><circle cx="101.7" cy="302.6" r="1.65"/><circle cx="99.2" cy="278.2" r="1.65"/><circle cx="104.1" cy="305.4" r="1.65"/><circle cx="96.8" cy="280.9" r="1.65"/><circle cx="103.8" cy="288.1" r="1.65"/><circle cx="99.3" cy="285.1" r="1.65"/><circle cx="106.5" cy="294.4" r="1.65"/><circle cx="96.9" cy="277.9" r="1.65"/><circle cx="101.1" cy="282.0" r="1.65"/><circle cx="98.7" cy="295.0" r="1.65"/><circle cx="104.5" cy="299.3" r="1.65"/><circle cx="98.7" cy="288.3" r="1.65"/><circle cx="99.9" cy="305.8" r="1.65"/><circle cx="99.0" cy="300.2" r="1.65"/><circle cx="104.7" cy="277.7" r="1.65"/><circle cx="106.8" cy="280.4" r="1.65"/><circle cx="98.5" cy="288.0" r="1.65"/><circle cx="101.0" cy="277.7" r="1.65"/><circle cx="106.8" cy="294.3" r="1.65"/><circle cx="100.8" cy="274.8" r="1.65"/><circle cx="107.0" cy="277.3" r="1.65"/><circle cx="97.1" cy="274.7" r="1.65"/><circle cx="100.8" cy="271.6" r="1.65"/><circle cx="106.1" cy="303.1" r="1.65"/><circle cx="107.3" cy="296.9" r="1.65"/><circle cx="100.1" cy="304.4" r="1.65"/><circle cx="106.6" cy="276.3" r="1.65"/><circle cx="96.9" cy="297.4" r="1.65"/><circle cx="100.6" cy="294.3" r="1.65"/><circle cx="100.1" cy="283.4" r="1.65"/><circle cx="96.6" cy="275.7" r="1.65"/><circle cx="100.3" cy="279.9" r="1.65"/><circle cx="97.9" cy="305.2" r="1.65"/><circle cx="98.8" cy="305.6" r="1.65"/><circle cx="105.4" cy="282.7" r="1.65"/><circle cx="101.2" cy="300.2" r="1.65"/><circle cx="101.6" cy="271.2" r="1.65"/><circle cx="106.5" cy="283.3" r="1.65"/><circle cx="100.5" cy="276.6" r="1.65"/><circle cx="96.8" cy="303.1" r="1.65"/><circle cx="105.3" cy="284.8" r="1.65"/><circle cx="97.0" cy="298.2" r="1.65"/><circle cx="97.2" cy="270.6" r="1.65"/><circle cx="99.3" cy="303.9" r="1.65"/><circle cx="106.2" cy="297.4" r="1.65"/><circle cx="99.5" cy="282.1" r="1.65"/><circle cx="103.2" cy="305.3" r="1.65"/><circle cx="104.3" cy="279.2" r="1.65"/><circle cx="99.5" cy="281.2" r="1.65"/><circle cx="104.7" cy="269.5" r="1.65"/><circle cx="103.4" cy="303.8" r="1.65"/><circle cx="96.8" cy="304.8" r="1.65"/><circle cx="101.7" cy="278.1" r="1.65"/><circle cx="106.8" cy="305.3" r="1.65"/><circle cx="99.2" cy="283.9" r="1.65"/><circle cx="101.8" cy="322.5" r="1.65"/><circle cx="98.5" cy="346.3" r="1.65"/><circle cx="104.5" cy="340.0" r="1.65"/><circle cx="104.9" cy="341.0" r="1.65"/><circle cx="100.1" cy="330.6" r="1.65"/><circle cx="100.4" cy="317.9" r="1.65"/><circle cx="97.4" cy="339.0" r="1.65"/><circle cx="104.7" cy="313.1" r="1.65"/><circle cx="97.2" cy="315.0" r="1.65"/><circle cx="102.5" cy="307.7" r="1.65"/><circle cx="107.1" cy="318.1" r="1.65"/><circle cx="107.2" cy="344.0" r="1.65"/><circle cx="97.4" cy="315.7" r="1.65"/><circle cx="101.9" cy="309.5" r="1.65"/><circle cx="101.3" cy="335.4" r="1.65"/><circle cx="101.0" cy="314.5" r="1.65"/><circle cx="103.8" cy="331.2" r="1.65"/><circle cx="105.7" cy="337.3" r="1.65"/><circle cx="97.8" cy="333.3" r="1.65"/><circle cx="99.7" cy="341.9" r="1.65"/><circle cx="100.5" cy="328.7" r="1.65"/><circle cx="98.7" cy="336.8" r="1.65"/><circle cx="99.2" cy="315.0" r="1.65"/><circle cx="106.1" cy="311.5" r="1.65"/><circle cx="100.0" cy="329.2" r="1.65"/><circle cx="107.2" cy="321.1" r="1.65"/><circle cx="119.4" cy="288.4" r="1.65"/><circle cx="123.9" cy="299.7" r="1.65"/><circle cx="118.0" cy="306.6" r="1.65"/><circle cx="125.7" cy="287.2" r="1.65"/><circle cx="126.8" cy="300.9" r="1.65"/><circle cx="120.1" cy="270.8" r="1.65"/><circle cx="118.9" cy="273.8" r="1.65"/><circle cx="123.2" cy="305.9" r="1.65"/><circle cx="120.9" cy="304.3" r="1.65"/><circle cx="121.7" cy="301.9" r="1.65"/><circle cx="125.3" cy="279.1" r="1.65"/><circle cx="118.0" cy="304.9" r="1.65"/><circle cx="123.6" cy="291.7" r="1.65"/><circle cx="120.9" cy="277.5" r="1.65"/><circle cx="119.1" cy="274.6" r="1.65"/><circle cx="123.4" cy="278.9" r="1.65"/><circle cx="119.1" cy="293.8" r="1.65"/><circle cx="120.4" cy="269.8" r="1.65"/><circle cx="118.9" cy="294.8" r="1.65"/><circle cx="119.1" cy="281.1" r="1.65"/><circle cx="122.8" cy="299.2" r="1.65"/><circle cx="118.0" cy="271.7" r="1.65"/><circle cx="122.8" cy="284.2" r="1.65"/><circle cx="117.9" cy="293.4" r="1.65"/><circle cx="124.4" cy="275.5" r="1.65"/><circle cx="119.9" cy="284.7" r="1.65"/><circle cx="127.2" cy="280.9" r="1.65"/><circle cx="123.0" cy="281.1" r="1.65"/><circle cx="121.4" cy="282.8" r="1.65"/><circle cx="127.6" cy="301.8" r="1.65"/><circle cx="119.0" cy="283.0" r="1.65"/><circle cx="119.1" cy="296.7" r="1.65"/><circle cx="126.6" cy="269.6" r="1.65"/><circle cx="125.7" cy="285.3" r="1.65"/><circle cx="126.4" cy="284.6" r="1.65"/><circle cx="118.6" cy="286.7" r="1.65"/><circle cx="122.8" cy="269.9" r="1.65"/><circle cx="126.7" cy="293.4" r="1.65"/><circle cx="123.6" cy="272.7" r="1.65"/><circle cx="122.3" cy="283.3" r="1.65"/><circle cx="119.9" cy="274.8" r="1.65"/><circle cx="126.9" cy="288.9" r="1.65"/><circle cx="122.2" cy="273.4" r="1.65"/><circle cx="127.3" cy="299.6" r="1.65"/><circle cx="118.2" cy="276.8" r="1.65"/><circle cx="127.4" cy="304.8" r="1.65"/><circle cx="117.5" cy="287.5" r="1.65"/><circle cx="121.1" cy="304.1" r="1.65"/><circle cx="123.6" cy="303.3" r="1.65"/><circle cx="118.6" cy="300.3" r="1.65"/><circle cx="119.3" cy="339.9" r="1.65"/><circle cx="126.0" cy="322.8" r="1.65"/><circle cx="118.9" cy="341.9" r="1.65"/><circle cx="121.2" cy="315.0" r="1.65"/><circle cx="121.0" cy="327.8" r="1.65"/><circle cx="119.5" cy="311.2" r="1.65"/><circle cx="126.6" cy="337.1" r="1.65"/><circle cx="123.0" cy="308.2" r="1.65"/><circle cx="117.3" cy="338.6" r="1.65"/><circle cx="118.2" cy="342.4" r="1.65"/><circle cx="122.8" cy="331.4" r="1.65"/><circle cx="120.2" cy="332.7" r="1.65"/><circle cx="123.2" cy="323.5" r="1.65"/><circle cx="124.0" cy="323.7" r="1.65"/><circle cx="121.6" cy="324.7" r="1.65"/><circle cx="123.6" cy="307.6" r="1.65"/><circle cx="119.4" cy="326.5" r="1.65"/><circle cx="125.3" cy="338.9" r="1.65"/><circle cx="118.8" cy="325.2" r="1.65"/><circle cx="118.0" cy="325.8" r="1.65"/><circle cx="121.5" cy="311.4" r="1.65"/><circle cx="121.7" cy="310.0" r="1.65"/><circle cx="117.3" cy="327.4" r="1.65"/><circle cx="117.8" cy="333.1" r="1.65"/></g>
<g fill="#c8463a" fill-opacity="0.5"><circle cx="148.5" cy="274.0" r="1.65"/><circle cx="139.6" cy="279.9" r="1.65"/><circle cx="148.8" cy="279.3" r="1.65"/><circle cx="144.6" cy="281.1" r="1.65"/><circle cx="147.3" cy="284.6" r="1.65"/><circle cx="137.2" cy="284.8" r="1.65"/><circle cx="141.7" cy="287.3" r="1.65"/><circle cx="142.3" cy="289.8" r="1.65"/><circle cx="140.9" cy="288.5" r="1.65"/><circle cx="146.0" cy="289.2" r="1.65"/><circle cx="143.0" cy="291.6" r="1.65"/><circle cx="138.6" cy="295.1" r="1.65"/><circle cx="143.0" cy="295.3" r="1.65"/><circle cx="139.9" cy="299.0" r="1.65"/><circle cx="144.8" cy="298.8" r="1.65"/><circle cx="147.9" cy="302.1" r="1.65"/><circle cx="139.3" cy="303.4" r="1.65"/><circle cx="141.7" cy="302.1" r="1.65"/><circle cx="145.4" cy="306.7" r="1.65"/><circle cx="148.3" cy="310.4" r="1.65"/><circle cx="145.1" cy="313.2" r="1.65"/><circle cx="165.2" cy="272.1" r="1.65"/><circle cx="162.3" cy="273.7" r="1.65"/><circle cx="161.5" cy="278.7" r="1.65"/><circle cx="161.9" cy="282.4" r="1.65"/><circle cx="157.4" cy="298.4" r="1.65"/><circle cx="161.9" cy="308.7" r="1.65"/><circle cx="158.6" cy="316.1" r="1.65"/><circle cx="183.1" cy="271.9" r="1.65"/><circle cx="182.1" cy="279.3" r="1.65"/><circle cx="185.8" cy="282.7" r="1.65"/><circle cx="180.4" cy="284.8" r="1.65"/><circle cx="177.5" cy="287.9" r="1.65"/><circle cx="188.0" cy="292.9" r="1.65"/><circle cx="180.6" cy="298.4" r="1.65"/><circle cx="188.0" cy="299.0" r="1.65"/><circle cx="183.1" cy="308.3" r="1.65"/><circle cx="178.4" cy="311.6" r="1.65"/><circle cx="183.7" cy="310.8" r="1.65"/><circle cx="141.5" cy="323.2" r="1.65"/><circle cx="140.4" cy="325.5" r="1.65"/><circle cx="139.2" cy="330.1" r="1.65"/><circle cx="142.7" cy="331.2" r="1.65"/><circle cx="146.6" cy="333.5" r="1.65"/><circle cx="147.3" cy="342.8" r="1.65"/><circle cx="141.5" cy="346.9" r="1.65"/><circle cx="158.8" cy="341.6" r="1.65"/><circle cx="166.9" cy="344.6" r="1.65"/><circle cx="198.1" cy="318.1" r="1.65"/><circle cx="187.7" cy="332.4" r="1.65"/><circle cx="182.6" cy="336.3" r="1.65"/><circle cx="187.7" cy="337.0" r="1.65"/><circle cx="206.2" cy="343.9" r="1.65"/><circle cx="229.7" cy="307.0" r="1.65"/><circle cx="243.1" cy="328.9" r="1.65"/><circle cx="142.0" cy="354.2" r="1.65"/><circle cx="146.2" cy="350.5" r="1.65"/><circle cx="166.5" cy="351.8" r="1.65"/><circle cx="161.8" cy="358.8" r="1.65"/><circle cx="178.5" cy="361.5" r="1.65"/><circle cx="202.7" cy="363.2" r="1.65"/><circle cx="145.0" cy="375.4" r="1.65"/><circle cx="168.5" cy="375.4" r="1.65"/><circle cx="184.9" cy="381.2" r="1.65"/><circle cx="206.6" cy="381.8" r="1.65"/><circle cx="224.2" cy="386.0" r="1.65"/><circle cx="144.3" cy="386.9" r="1.65"/><circle cx="136.9" cy="392.0" r="1.65"/><circle cx="145.2" cy="392.9" r="1.65"/><circle cx="202.9" cy="390.8" r="1.65"/><circle cx="229.2" cy="397.8" r="1.65"/><circle cx="143.4" cy="402.6" r="1.65"/><circle cx="148.5" cy="400.3" r="1.65"/><circle cx="161.8" cy="401.2" r="1.65"/><circle cx="138.8" cy="410.5" r="1.65"/><circle cx="139.7" cy="413.5" r="1.65"/><circle cx="222.3" cy="413.9" r="1.65"/><circle cx="168.1" cy="431.7" r="1.65"/><circle cx="56.2" cy="358.2" r="1.65"/><circle cx="59.3" cy="359.3" r="1.65"/><circle cx="61.3" cy="357.8" r="1.65"/><circle cx="64.4" cy="357.2" r="1.65"/><circle cx="66.5" cy="357.2" r="1.65"/><circle cx="57.2" cy="362.3" r="1.65"/><circle cx="60.3" cy="361.3" r="1.65"/><circle cx="64.8" cy="364.0" r="1.65"/><circle cx="55.8" cy="364.8" r="1.65"/><circle cx="61.3" cy="368.5" r="1.65"/><circle cx="63.4" cy="369.5" r="1.65"/><circle cx="60.3" cy="370.6" r="1.65"/><circle cx="58.2" cy="372.2" r="1.65"/><circle cx="64.4" cy="372.6" r="1.65"/><circle cx="59.9" cy="377.8" r="1.65"/><circle cx="58.6" cy="379.2" r="1.65"/><circle cx="65.4" cy="378.8" r="1.65"/><circle cx="66.0" cy="382.5" r="1.65"/><circle cx="56.2" cy="392.8" r="1.65"/><circle cx="61.3" cy="393.6" r="1.65"/><circle cx="59.3" cy="397.3" r="1.65"/><circle cx="64.4" cy="400.4" r="1.65"/><circle cx="59.9" cy="403.9" r="1.65"/><circle cx="66.9" cy="404.5" r="1.65"/><circle cx="55.8" cy="409.7" r="1.65"/><circle cx="64.8" cy="418.3" r="1.65"/><circle cx="59.3" cy="425.1" r="1.65"/><circle cx="66.5" cy="433.3" r="1.65"/><circle cx="77.8" cy="352.5" r="1.65"/><circle cx="80.5" cy="353.7" r="1.65"/><circle cx="78.4" cy="356.2" r="1.65"/><circle cx="79.8" cy="358.2" r="1.65"/><circle cx="84.0" cy="360.3" r="1.65"/><circle cx="85.0" cy="364.8" r="1.65"/><circle cx="75.7" cy="370.6" r="1.65"/><circle cx="80.9" cy="369.5" r="1.65"/><circle cx="77.8" cy="372.6" r="1.65"/><circle cx="76.7" cy="373.7" r="1.65"/><circle cx="87.0" cy="371.6" r="1.65"/><circle cx="79.8" cy="378.8" r="1.65"/><circle cx="84.0" cy="381.9" r="1.65"/><circle cx="87.0" cy="382.9" r="1.65"/><circle cx="78.8" cy="385.4" r="1.65"/><circle cx="84.6" cy="390.1" r="1.65"/><circle cx="76.7" cy="408.0" r="1.65"/><circle cx="86.0" cy="430.7" r="1.65"/><circle cx="98.4" cy="352.1" r="1.65"/><circle cx="97.7" cy="359.9" r="1.65"/><circle cx="101.4" cy="360.3" r="1.65"/><circle cx="97.3" cy="367.5" r="1.65"/><circle cx="99.4" cy="370.6" r="1.65"/><circle cx="105.6" cy="366.5" r="1.65"/><circle cx="107.6" cy="369.5" r="1.65"/><circle cx="105.6" cy="372.2" r="1.65"/><circle cx="99.4" cy="384.0" r="1.65"/><circle cx="107.2" cy="384.0" r="1.65"/><circle cx="103.5" cy="388.1" r="1.65"/><circle cx="105.6" cy="389.1" r="1.65"/><circle cx="102.5" cy="391.2" r="1.65"/><circle cx="108.0" cy="392.8" r="1.65"/><circle cx="96.3" cy="399.0" r="1.65"/><circle cx="116.3" cy="403.9" r="1.65"/><circle cx="117.9" cy="407.6" r="1.65"/><circle cx="117.5" cy="354.1" r="1.65"/><circle cx="122.0" cy="351.0" r="1.65"/><circle cx="127.8" cy="359.3" r="1.65"/><circle cx="127.2" cy="364.0" r="1.65"/><circle cx="122.0" cy="388.1" r="1.65"/><circle cx="127.2" cy="386.6" r="1.65"/><circle cx="117.9" cy="423.0" r="1.65"/><circle cx="117.9" cy="425.1" r="1.65"/><circle cx="118.3" cy="428.2" r="1.65"/><circle cx="118.3" cy="430.7" r="1.65"/><circle cx="124.1" cy="420.0" r="1.65"/></g>
<g fill="#38a0da" fill-opacity="0.48"><circle cx="320.5" cy="285.9" r="1.55"/><circle cx="316.1" cy="280.8" r="1.55"/><circle cx="318.1" cy="280.6" r="1.55"/><circle cx="316.6" cy="290.8" r="1.55"/><circle cx="321.8" cy="288.7" r="1.55"/><circle cx="320.7" cy="285.8" r="1.55"/><circle cx="321.7" cy="273.5" r="1.55"/><circle cx="321.5" cy="280.3" r="1.55"/><circle cx="316.8" cy="290.0" r="1.55"/><circle cx="321.4" cy="287.1" r="1.55"/><circle cx="317.9" cy="270.6" r="1.55"/><circle cx="316.8" cy="286.4" r="1.55"/><circle cx="317.4" cy="289.6" r="1.55"/><circle cx="316.7" cy="287.7" r="1.55"/><circle cx="321.3" cy="280.6" r="1.55"/><circle cx="317.4" cy="273.9" r="1.55"/><circle cx="317.7" cy="280.7" r="1.55"/><circle cx="316.9" cy="270.0" r="1.55"/><circle cx="321.4" cy="272.8" r="1.55"/><circle cx="321.2" cy="284.6" r="1.55"/><circle cx="320.5" cy="273.0" r="1.55"/><circle cx="319.0" cy="271.7" r="1.55"/><circle cx="318.0" cy="283.6" r="1.55"/><circle cx="319.1" cy="289.0" r="1.55"/><circle cx="321.1" cy="282.4" r="1.55"/><circle cx="321.8" cy="271.5" r="1.55"/><circle cx="318.2" cy="283.5" r="1.55"/><circle cx="317.4" cy="287.3" r="1.55"/><circle cx="319.3" cy="291.7" r="1.55"/><circle cx="320.4" cy="277.3" r="1.55"/><circle cx="316.9" cy="279.2" r="1.55"/><circle cx="316.1" cy="286.1" r="1.55"/><circle cx="317.3" cy="287.8" r="1.55"/><circle cx="321.7" cy="283.7" r="1.55"/><circle cx="319.8" cy="282.5" r="1.55"/><circle cx="315.8" cy="276.3" r="1.55"/><circle cx="316.7" cy="269.9" r="1.55"/><circle cx="318.4" cy="283.2" r="1.55"/><circle cx="321.2" cy="280.8" r="1.55"/><circle cx="317.2" cy="272.1" r="1.55"/><circle cx="315.9" cy="284.0" r="1.55"/><circle cx="317.9" cy="269.2" r="1.55"/><circle cx="317.9" cy="271.6" r="1.55"/><circle cx="319.3" cy="274.2" r="1.55"/><circle cx="317.0" cy="282.6" r="1.55"/><circle cx="318.6" cy="283.4" r="1.55"/><circle cx="321.4" cy="272.2" r="1.55"/><circle cx="316.7" cy="274.7" r="1.55"/><circle cx="319.6" cy="271.3" r="1.55"/><circle cx="320.5" cy="289.0" r="1.55"/><circle cx="317.4" cy="278.3" r="1.55"/><circle cx="319.7" cy="269.4" r="1.55"/><circle cx="317.9" cy="282.0" r="1.55"/><circle cx="318.5" cy="283.8" r="1.55"/><circle cx="320.2" cy="290.5" r="1.55"/><circle cx="321.2" cy="274.8" r="1.55"/><circle cx="319.0" cy="270.1" r="1.55"/><circle cx="317.2" cy="278.4" r="1.55"/><circle cx="320.5" cy="270.5" r="1.55"/><circle cx="319.1" cy="269.4" r="1.55"/><circle cx="316.7" cy="290.6" r="1.55"/><circle cx="319.4" cy="273.7" r="1.55"/><circle cx="319.6" cy="280.7" r="1.55"/><circle cx="316.8" cy="287.7" r="1.55"/><circle cx="317.6" cy="276.2" r="1.55"/><circle cx="321.1" cy="270.2" r="1.55"/><circle cx="320.1" cy="287.0" r="1.55"/><circle cx="320.9" cy="269.3" r="1.55"/><circle cx="318.6" cy="286.1" r="1.55"/><circle cx="318.5" cy="286.0" r="1.55"/><circle cx="316.4" cy="274.3" r="1.55"/><circle cx="316.0" cy="274.4" r="1.55"/><circle cx="320.3" cy="276.8" r="1.55"/><circle cx="320.9" cy="285.0" r="1.55"/><circle cx="317.4" cy="285.4" r="1.55"/><circle cx="318.4" cy="281.8" r="1.55"/><circle cx="318.9" cy="287.1" r="1.55"/><circle cx="319.7" cy="275.2" r="1.55"/><circle cx="317.1" cy="291.1" r="1.55"/><circle cx="315.9" cy="289.2" r="1.55"/><circle cx="317.2" cy="275.1" r="1.55"/><circle cx="321.5" cy="286.1" r="1.55"/><circle cx="317.8" cy="286.1" r="1.55"/><circle cx="317.8" cy="289.2" r="1.55"/><circle cx="321.2" cy="274.6" r="1.55"/><circle cx="320.0" cy="283.5" r="1.55"/><circle cx="321.7" cy="284.3" r="1.55"/><circle cx="320.8" cy="279.8" r="1.55"/><circle cx="320.9" cy="285.0" r="1.55"/><circle cx="320.1" cy="279.1" r="1.55"/><circle cx="317.6" cy="282.1" r="1.55"/><circle cx="319.5" cy="274.0" r="1.55"/><circle cx="321.3" cy="270.9" r="1.55"/><circle cx="316.0" cy="272.4" r="1.55"/><circle cx="321.4" cy="271.6" r="1.55"/><circle cx="316.7" cy="277.0" r="1.55"/><circle cx="316.0" cy="269.8" r="1.55"/><circle cx="319.6" cy="284.9" r="1.55"/><circle cx="320.2" cy="285.0" r="1.55"/><circle cx="319.3" cy="270.6" r="1.55"/><circle cx="320.7" cy="277.4" r="1.55"/><circle cx="321.1" cy="287.8" r="1.55"/><circle cx="321.0" cy="270.6" r="1.55"/><circle cx="321.5" cy="290.0" r="1.55"/><circle cx="317.0" cy="271.6" r="1.55"/><circle cx="316.0" cy="271.7" r="1.55"/><circle cx="320.7" cy="288.5" r="1.55"/><circle cx="320.8" cy="283.6" r="1.55"/><circle cx="317.5" cy="283.5" r="1.55"/><circle cx="316.4" cy="271.4" r="1.55"/><circle cx="317.0" cy="286.4" r="1.55"/><circle cx="318.3" cy="276.4" r="1.55"/><circle cx="317.3" cy="269.6" r="1.55"/><circle cx="320.1" cy="275.6" r="1.55"/><circle cx="317.7" cy="277.5" r="1.55"/><circle cx="318.8" cy="291.1" r="1.55"/><circle cx="319.5" cy="288.5" r="1.55"/><circle cx="318.3" cy="269.8" r="1.55"/><circle cx="320.4" cy="279.1" r="1.55"/><circle cx="320.0" cy="277.0" r="1.55"/><circle cx="317.1" cy="281.4" r="1.55"/><circle cx="316.3" cy="288.8" r="1.55"/><circle cx="316.8" cy="287.8" r="1.55"/><circle cx="317.0" cy="269.2" r="1.55"/><circle cx="321.7" cy="286.5" r="1.55"/><circle cx="318.7" cy="269.2" r="1.55"/><circle cx="320.6" cy="280.3" r="1.55"/><circle cx="318.8" cy="273.3" r="1.55"/><circle cx="320.8" cy="277.0" r="1.55"/><circle cx="321.5" cy="275.1" r="1.55"/><circle cx="317.1" cy="275.6" r="1.55"/><circle cx="318.8" cy="285.1" r="1.55"/><circle cx="319.6" cy="271.6" r="1.55"/><circle cx="320.5" cy="271.0" r="1.55"/><circle cx="320.5" cy="285.0" r="1.55"/><circle cx="317.9" cy="283.4" r="1.55"/><circle cx="318.2" cy="278.3" r="1.55"/><circle cx="316.3" cy="289.4" r="1.55"/><circle cx="316.0" cy="289.4" r="1.55"/><circle cx="317.4" cy="273.8" r="1.55"/><circle cx="318.8" cy="289.7" r="1.55"/><circle cx="321.1" cy="277.8" r="1.55"/><circle cx="318.6" cy="274.5" r="1.55"/><circle cx="320.3" cy="281.2" r="1.55"/><circle cx="319.7" cy="286.3" r="1.55"/><circle cx="317.8" cy="277.1" r="1.55"/><circle cx="320.9" cy="272.7" r="1.55"/><circle cx="320.3" cy="284.2" r="1.55"/><circle cx="318.4" cy="273.0" r="1.55"/><circle cx="319.3" cy="286.8" r="1.55"/><circle cx="332.7" cy="270.9" r="1.55"/><circle cx="329.9" cy="279.6" r="1.55"/><circle cx="331.3" cy="280.2" r="1.55"/><circle cx="332.2" cy="284.1" r="1.55"/><circle cx="330.6" cy="291.3" r="1.55"/><circle cx="333.5" cy="299.6" r="1.55"/><circle cx="333.4" cy="272.6" r="1.55"/><circle cx="333.1" cy="298.9" r="1.55"/><circle cx="333.4" cy="275.2" r="1.55"/><circle cx="328.5" cy="290.5" r="1.55"/><circle cx="334.1" cy="271.2" r="1.55"/><circle cx="329.9" cy="291.2" r="1.55"/><circle cx="329.3" cy="274.0" r="1.55"/><circle cx="333.1" cy="278.1" r="1.55"/><circle cx="329.3" cy="281.6" r="1.55"/><circle cx="333.2" cy="298.9" r="1.55"/><circle cx="333.8" cy="276.1" r="1.55"/><circle cx="333.1" cy="289.7" r="1.55"/><circle cx="333.8" cy="291.6" r="1.55"/><circle cx="333.4" cy="295.3" r="1.55"/><circle cx="332.6" cy="277.0" r="1.55"/><circle cx="332.9" cy="287.3" r="1.55"/><circle cx="333.7" cy="284.5" r="1.55"/><circle cx="330.0" cy="288.1" r="1.55"/><circle cx="329.2" cy="278.1" r="1.55"/><circle cx="328.8" cy="286.1" r="1.55"/><circle cx="329.3" cy="285.3" r="1.55"/><circle cx="331.4" cy="286.1" r="1.55"/><circle cx="333.6" cy="287.6" r="1.55"/><circle cx="333.5" cy="271.1" r="1.55"/><circle cx="331.8" cy="285.4" r="1.55"/><circle cx="333.5" cy="291.5" r="1.55"/><circle cx="330.9" cy="282.5" r="1.55"/><circle cx="328.9" cy="300.6" r="1.55"/><circle cx="332.2" cy="290.6" r="1.55"/><circle cx="332.1" cy="271.7" r="1.55"/><circle cx="334.0" cy="292.0" r="1.55"/><circle cx="334.3" cy="281.1" r="1.55"/><circle cx="331.3" cy="286.7" r="1.55"/><circle cx="328.6" cy="298.7" r="1.55"/><circle cx="332.2" cy="293.1" r="1.55"/><circle cx="333.6" cy="281.4" r="1.55"/><circle cx="331.3" cy="282.2" r="1.55"/><circle cx="333.0" cy="287.1" r="1.55"/><circle cx="331.0" cy="277.4" r="1.55"/><circle cx="331.7" cy="283.9" r="1.55"/><circle cx="330.2" cy="296.5" r="1.55"/><circle cx="330.8" cy="296.5" r="1.55"/><circle cx="330.0" cy="286.5" r="1.55"/><circle cx="334.3" cy="286.6" r="1.55"/><circle cx="333.2" cy="291.1" r="1.55"/><circle cx="330.3" cy="281.1" r="1.55"/><circle cx="331.9" cy="280.1" r="1.55"/><circle cx="333.1" cy="290.5" r="1.55"/><circle cx="332.7" cy="272.1" r="1.55"/><circle cx="331.7" cy="298.3" r="1.55"/><circle cx="330.2" cy="272.4" r="1.55"/><circle cx="329.5" cy="271.1" r="1.55"/><circle cx="332.1" cy="299.4" r="1.55"/><circle cx="333.1" cy="291.3" r="1.55"/><circle cx="332.1" cy="299.1" r="1.55"/><circle cx="332.2" cy="290.0" r="1.55"/><circle cx="332.0" cy="292.4" r="1.55"/><circle cx="329.7" cy="292.0" r="1.55"/><circle cx="331.2" cy="291.5" r="1.55"/><circle cx="329.0" cy="294.5" r="1.55"/><circle cx="328.6" cy="276.5" r="1.55"/><circle cx="333.9" cy="294.9" r="1.55"/><circle cx="330.6" cy="291.2" r="1.55"/><circle cx="333.1" cy="296.4" r="1.55"/><circle cx="330.0" cy="288.3" r="1.55"/><circle cx="330.9" cy="280.2" r="1.55"/><circle cx="331.0" cy="280.7" r="1.55"/><circle cx="334.0" cy="290.7" r="1.55"/><circle cx="331.8" cy="272.6" r="1.55"/><circle cx="344.5" cy="288.1" r="1.55"/><circle cx="346.3" cy="304.2" r="1.55"/><circle cx="346.0" cy="272.6" r="1.55"/><circle cx="346.2" cy="304.1" r="1.55"/><circle cx="342.7" cy="294.3" r="1.55"/><circle cx="345.9" cy="305.7" r="1.55"/><circle cx="346.5" cy="298.9" r="1.55"/><circle cx="341.5" cy="285.0" r="1.55"/><circle cx="345.8" cy="293.5" r="1.55"/><circle cx="345.5" cy="279.1" r="1.55"/><circle cx="342.4" cy="309.0" r="1.55"/><circle cx="345.1" cy="295.7" r="1.55"/><circle cx="342.3" cy="289.9" r="1.55"/><circle cx="345.5" cy="281.3" r="1.55"/><circle cx="343.8" cy="303.2" r="1.55"/><circle cx="345.9" cy="274.4" r="1.55"/><circle cx="342.4" cy="302.4" r="1.55"/><circle cx="346.4" cy="294.6" r="1.55"/><circle cx="344.2" cy="307.1" r="1.55"/><circle cx="344.6" cy="290.4" r="1.55"/><circle cx="342.2" cy="278.6" r="1.55"/><circle cx="345.2" cy="278.3" r="1.55"/><circle cx="344.4" cy="285.7" r="1.55"/><circle cx="344.1" cy="287.3" r="1.55"/><circle cx="341.3" cy="277.0" r="1.55"/><circle cx="343.3" cy="311.6" r="1.55"/><circle cx="344.8" cy="275.2" r="1.55"/><circle cx="342.0" cy="303.1" r="1.55"/><circle cx="343.1" cy="295.3" r="1.55"/><circle cx="341.1" cy="292.1" r="1.55"/><circle cx="347.0" cy="272.2" r="1.55"/><circle cx="343.9" cy="306.3" r="1.55"/><circle cx="342.6" cy="294.1" r="1.55"/><circle cx="343.6" cy="302.7" r="1.55"/><circle cx="345.6" cy="309.6" r="1.55"/><circle cx="346.8" cy="304.4" r="1.55"/><circle cx="341.2" cy="281.2" r="1.55"/><circle cx="342.1" cy="279.1" r="1.55"/><circle cx="341.3" cy="274.3" r="1.55"/><circle cx="346.2" cy="293.7" r="1.55"/><circle cx="346.7" cy="289.6" r="1.55"/><circle cx="341.4" cy="308.1" r="1.55"/><circle cx="343.4" cy="295.3" r="1.55"/><circle cx="346.8" cy="275.8" r="1.55"/><circle cx="344.4" cy="281.4" r="1.55"/><circle cx="346.8" cy="297.1" r="1.55"/><circle cx="343.4" cy="298.3" r="1.55"/><circle cx="342.0" cy="289.2" r="1.55"/><circle cx="347.0" cy="310.4" r="1.55"/><circle cx="341.3" cy="279.9" r="1.55"/><circle cx="343.1" cy="281.3" r="1.55"/><circle cx="346.4" cy="307.8" r="1.55"/><circle cx="341.3" cy="305.1" r="1.55"/><circle cx="345.3" cy="303.0" r="1.55"/><circle cx="346.9" cy="297.3" r="1.55"/><circle cx="359.6" cy="286.5" r="1.55"/><circle cx="359.2" cy="311.7" r="1.55"/><circle cx="355.4" cy="276.0" r="1.55"/><circle cx="354.0" cy="307.6" r="1.55"/><circle cx="355.4" cy="300.9" r="1.55"/><circle cx="353.7" cy="310.9" r="1.55"/><circle cx="355.7" cy="304.1" r="1.55"/><circle cx="353.6" cy="277.7" r="1.55"/><circle cx="356.8" cy="305.1" r="1.55"/><circle cx="356.2" cy="279.5" r="1.55"/><circle cx="354.9" cy="308.3" r="1.55"/><circle cx="354.5" cy="294.8" r="1.55"/><circle cx="358.3" cy="279.2" r="1.55"/><circle cx="354.8" cy="300.3" r="1.55"/><circle cx="354.2" cy="275.2" r="1.55"/><circle cx="356.6" cy="296.2" r="1.55"/><circle cx="354.9" cy="283.0" r="1.55"/><circle cx="357.9" cy="296.4" r="1.55"/><circle cx="357.1" cy="304.3" r="1.55"/><circle cx="354.0" cy="280.1" r="1.55"/><circle cx="356.1" cy="301.2" r="1.55"/><circle cx="354.0" cy="300.7" r="1.55"/><circle cx="355.6" cy="304.3" r="1.55"/><circle cx="358.8" cy="305.5" r="1.55"/><circle cx="353.7" cy="291.7" r="1.55"/><circle cx="356.5" cy="308.2" r="1.55"/></g>
<g fill="#4f9bd0" fill-opacity="0.48"><circle cx="345.4" cy="403.9" r="1.55"/><circle cx="340.9" cy="432.3" r="1.55"/><circle cx="365.2" cy="408.6" r="1.55"/><circle cx="366.6" cy="425.1" r="1.55"/><circle cx="368.7" cy="369.5" r="1.55"/><circle cx="369.7" cy="374.7" r="1.55"/><circle cx="372.8" cy="378.8" r="1.55"/><circle cx="371.4" cy="356.2" r="1.55"/><circle cx="372.8" cy="361.3" r="1.55"/><circle cx="370.8" cy="388.1" r="1.55"/><circle cx="370.8" cy="405.6" r="1.55"/><circle cx="379.0" cy="364.4" r="1.55"/><circle cx="381.0" cy="360.3" r="1.55"/><circle cx="383.7" cy="369.5" r="1.55"/><circle cx="380.4" cy="377.8" r="1.55"/><circle cx="381.7" cy="381.3" r="1.55"/><circle cx="385.2" cy="387.0" r="1.55"/><circle cx="379.6" cy="392.2" r="1.55"/><circle cx="384.5" cy="399.4" r="1.55"/><circle cx="380.0" cy="409.7" r="1.55"/><circle cx="390.3" cy="357.2" r="1.55"/><circle cx="391.3" cy="379.8" r="1.55"/><circle cx="397.5" cy="380.9" r="1.55"/><circle cx="392.8" cy="388.1" r="1.55"/><circle cx="398.5" cy="387.0" r="1.55"/><circle cx="394.4" cy="398.4" r="1.55"/><circle cx="392.0" cy="399.4" r="1.55"/><circle cx="395.4" cy="406.6" r="1.55"/><circle cx="390.3" cy="416.3" r="1.55"/><circle cx="403.7" cy="386.0" r="1.55"/><circle cx="404.7" cy="396.3" r="1.55"/><circle cx="404.7" cy="417.9" r="1.55"/><circle cx="403.7" cy="422.0" r="1.55"/><circle cx="405.7" cy="430.2" r="1.55"/><circle cx="383.1" cy="355.8" r="1.55"/><circle cx="378.0" cy="356.2" r="1.55"/><circle cx="320.3" cy="347.4" r="1.55"/><circle cx="331.5" cy="346.2" r="1.55"/><circle cx="315.4" cy="356.0" r="1.55"/><circle cx="315.4" cy="358.5" r="1.55"/><circle cx="322.2" cy="358.5" r="1.55"/><circle cx="333.3" cy="361.0" r="1.55"/><circle cx="330.8" cy="365.9" r="1.55"/><circle cx="340.7" cy="356.0" r="1.55"/><circle cx="343.8" cy="361.0" r="1.55"/><circle cx="342.0" cy="368.4" r="1.55"/><circle cx="347.5" cy="365.9" r="1.55"/><circle cx="355.5" cy="349.9" r="1.55"/><circle cx="354.9" cy="357.3" r="1.55"/><circle cx="359.9" cy="354.8" r="1.55"/><circle cx="353.7" cy="364.1" r="1.55"/><circle cx="359.9" cy="361.0" r="1.55"/><circle cx="353.7" cy="369.6" r="1.55"/><circle cx="366.0" cy="363.5" r="1.55"/><circle cx="366.0" cy="370.9" r="1.55"/><circle cx="317.3" cy="375.8" r="1.55"/><circle cx="322.2" cy="375.8" r="1.55"/><circle cx="333.9" cy="375.2" r="1.55"/><circle cx="344.4" cy="374.6" r="1.55"/><circle cx="345.0" cy="380.7" r="1.55"/><circle cx="353.7" cy="383.8" r="1.55"/><circle cx="356.8" cy="385.1" r="1.55"/><circle cx="366.0" cy="379.5" r="1.55"/><circle cx="366.0" cy="385.1" r="1.55"/><circle cx="317.3" cy="389.4" r="1.55"/><circle cx="332.1" cy="390.6" r="1.55"/><circle cx="333.3" cy="394.3" r="1.55"/><circle cx="342.0" cy="396.8" r="1.55"/><circle cx="440.9" cy="269.7" r="1.55"/><circle cx="419.9" cy="275.7" r="1.55"/><circle cx="504.0" cy="275.7" r="1.55"/><circle cx="404.4" cy="279.7" r="1.55"/><circle cx="410.0" cy="281.5" r="1.55"/><circle cx="403.3" cy="284.1" r="1.55"/><circle cx="408.4" cy="285.2" r="1.55"/><circle cx="410.0" cy="291.4" r="1.55"/><circle cx="456.4" cy="294.1" r="1.55"/><circle cx="404.9" cy="301.8" r="1.55"/><circle cx="420.4" cy="315.5" r="1.55"/><circle cx="403.3" cy="317.8" r="1.55"/><circle cx="409.3" cy="318.4" r="1.55"/><circle cx="472.6" cy="322.2" r="1.55"/><circle cx="417.3" cy="323.5" r="1.55"/><circle cx="415.5" cy="335.5" r="1.55"/><circle cx="417.7" cy="337.2" r="1.55"/><circle cx="406.2" cy="339.0" r="1.55"/><circle cx="406.6" cy="345.6" r="1.55"/><circle cx="434.3" cy="349.4" r="1.55"/><circle cx="458.0" cy="347.8" r="1.55"/><circle cx="481.4" cy="346.1" r="1.55"/><circle cx="454.2" cy="360.5" r="1.55"/><circle cx="446.5" cy="369.3" r="1.55"/><circle cx="410.6" cy="381.5" r="1.55"/><circle cx="421.7" cy="382.2" r="1.55"/><circle cx="408.8" cy="387.0" r="1.55"/><circle cx="410.0" cy="401.4" r="1.55"/><circle cx="433.6" cy="395.4" r="1.55"/><circle cx="454.2" cy="399.2" r="1.55"/><circle cx="421.7" cy="409.6" r="1.55"/><circle cx="431.0" cy="407.4" r="1.55"/><circle cx="457.1" cy="414.7" r="1.55"/><circle cx="418.8" cy="423.5" r="1.55"/><circle cx="433.2" cy="424.2" r="1.55"/><circle cx="429.9" cy="431.3" r="1.55"/><circle cx="457.1" cy="433.5" r="1.55"/><circle cx="366.3" cy="269.0" r="1.55"/><circle cx="372.5" cy="268.2" r="1.55"/><circle cx="368.0" cy="274.4" r="1.55"/><circle cx="370.8" cy="286.9" r="1.55"/><circle cx="366.9" cy="288.6" r="1.55"/><circle cx="366.3" cy="291.4" r="1.55"/><circle cx="372.5" cy="293.1" r="1.55"/><circle cx="369.7" cy="294.8" r="1.55"/><circle cx="366.3" cy="298.2" r="1.55"/><circle cx="369.7" cy="298.8" r="1.55"/><circle cx="367.4" cy="302.2" r="1.55"/><circle cx="370.8" cy="307.2" r="1.55"/><circle cx="369.1" cy="308.9" r="1.55"/><circle cx="372.0" cy="307.2" r="1.55"/><circle cx="381.0" cy="273.9" r="1.55"/><circle cx="384.2" cy="278.4" r="1.55"/><circle cx="383.8" cy="288.0" r="1.55"/><circle cx="384.6" cy="294.2" r="1.55"/><circle cx="380.5" cy="297.6" r="1.55"/><circle cx="380.5" cy="305.0" r="1.55"/><circle cx="379.9" cy="308.4" r="1.55"/><circle cx="384.6" cy="306.7" r="1.55"/><circle cx="385.0" cy="311.8" r="1.55"/><circle cx="396.9" cy="277.8" r="1.55"/><circle cx="393.5" cy="289.7" r="1.55"/><circle cx="396.3" cy="291.4" r="1.55"/><circle cx="393.5" cy="297.6" r="1.55"/><circle cx="391.2" cy="305.0" r="1.55"/><circle cx="392.9" cy="307.8" r="1.55"/><circle cx="367.4" cy="319.0" r="1.55"/><circle cx="366.9" cy="333.2" r="1.55"/><circle cx="365.7" cy="339.4" r="1.55"/><circle cx="369.1" cy="338.8" r="1.55"/><circle cx="369.1" cy="345.1" r="1.55"/><circle cx="379.9" cy="329.2" r="1.55"/><circle cx="382.1" cy="337.7" r="1.55"/><circle cx="383.8" cy="340.5" r="1.55"/><circle cx="391.2" cy="317.4" r="1.55"/><circle cx="395.2" cy="317.9" r="1.55"/><circle cx="396.9" cy="328.7" r="1.55"/><circle cx="390.6" cy="334.3" r="1.55"/><circle cx="397.4" cy="336.0" r="1.55"/><circle cx="394.6" cy="338.3" r="1.55"/><circle cx="392.3" cy="349.0" r="1.55"/><circle cx="318.6" cy="294.9" r="1.55"/><circle cx="317.2" cy="347.7" r="1.55"/><circle cx="317.6" cy="297.5" r="1.55"/><circle cx="320.9" cy="331.4" r="1.55"/><circle cx="316.7" cy="296.0" r="1.55"/><circle cx="317.8" cy="300.2" r="1.55"/><circle cx="316.8" cy="317.2" r="1.55"/><circle cx="316.9" cy="304.5" r="1.55"/><circle cx="320.2" cy="356.4" r="1.55"/><circle cx="321.6" cy="294.1" r="1.55"/><circle cx="318.1" cy="294.1" r="1.55"/><circle cx="320.6" cy="357.2" r="1.55"/><circle cx="318.4" cy="334.0" r="1.55"/><circle cx="319.6" cy="297.7" r="1.55"/><circle cx="317.0" cy="294.3" r="1.55"/><circle cx="316.0" cy="308.1" r="1.55"/><circle cx="320.5" cy="308.8" r="1.55"/><circle cx="318.8" cy="330.6" r="1.55"/><circle cx="318.6" cy="325.6" r="1.55"/><circle cx="319.4" cy="295.5" r="1.55"/><circle cx="320.2" cy="309.2" r="1.55"/><circle cx="318.4" cy="349.8" r="1.55"/><circle cx="320.3" cy="321.0" r="1.55"/><circle cx="317.2" cy="310.2" r="1.55"/><circle cx="321.1" cy="333.0" r="1.55"/><circle cx="320.0" cy="337.5" r="1.55"/><circle cx="319.9" cy="344.6" r="1.55"/><circle cx="318.5" cy="326.3" r="1.55"/><circle cx="319.6" cy="303.7" r="1.55"/><circle cx="318.3" cy="294.0" r="1.55"/><circle cx="320.1" cy="338.3" r="1.55"/><circle cx="317.3" cy="325.4" r="1.55"/><circle cx="318.5" cy="310.4" r="1.55"/><circle cx="318.3" cy="324.7" r="1.55"/><circle cx="321.4" cy="329.1" r="1.55"/><circle cx="319.7" cy="297.2" r="1.55"/><circle cx="318.1" cy="337.9" r="1.55"/><circle cx="321.6" cy="314.9" r="1.55"/><circle cx="319.1" cy="292.4" r="1.55"/><circle cx="320.5" cy="296.2" r="1.55"/><circle cx="318.9" cy="353.0" r="1.55"/><circle cx="319.2" cy="294.1" r="1.55"/><circle cx="320.1" cy="318.6" r="1.55"/><circle cx="319.6" cy="316.5" r="1.55"/><circle cx="318.9" cy="342.5" r="1.55"/><circle cx="321.5" cy="309.5" r="1.55"/><circle cx="319.9" cy="298.4" r="1.55"/><circle cx="320.4" cy="308.4" r="1.55"/><circle cx="321.7" cy="294.8" r="1.55"/><circle cx="316.1" cy="306.1" r="1.55"/><circle cx="318.2" cy="301.6" r="1.55"/><circle cx="318.3" cy="292.0" r="1.55"/><circle cx="320.0" cy="310.2" r="1.55"/><circle cx="317.4" cy="305.9" r="1.55"/><circle cx="320.2" cy="299.0" r="1.55"/><circle cx="319.0" cy="352.9" r="1.55"/><circle cx="320.6" cy="298.8" r="1.55"/><circle cx="317.1" cy="308.4" r="1.55"/><circle cx="320.5" cy="295.0" r="1.55"/><circle cx="319.6" cy="340.7" r="1.55"/><circle cx="319.2" cy="313.4" r="1.55"/><circle cx="321.6" cy="299.1" r="1.55"/><circle cx="319.6" cy="306.0" r="1.55"/><circle cx="320.7" cy="341.5" r="1.55"/><circle cx="317.6" cy="313.4" r="1.55"/><circle cx="316.6" cy="319.1" r="1.55"/><circle cx="317.9" cy="342.9" r="1.55"/><circle cx="317.4" cy="344.4" r="1.55"/><circle cx="317.3" cy="307.4" r="1.55"/><circle cx="316.9" cy="310.5" r="1.55"/><circle cx="329.1" cy="302.3" r="1.55"/><circle cx="331.9" cy="343.4" r="1.55"/><circle cx="331.1" cy="352.0" r="1.55"/><circle cx="330.7" cy="301.9" r="1.55"/><circle cx="334.0" cy="327.8" r="1.55"/><circle cx="331.3" cy="357.2" r="1.55"/><circle cx="329.0" cy="316.9" r="1.55"/><circle cx="329.7" cy="331.3" r="1.55"/><circle cx="328.5" cy="305.2" r="1.55"/><circle cx="332.5" cy="301.9" r="1.55"/><circle cx="334.2" cy="304.3" r="1.55"/><circle cx="333.6" cy="303.3" r="1.55"/><circle cx="328.5" cy="304.5" r="1.55"/><circle cx="329.9" cy="336.6" r="1.55"/><circle cx="329.5" cy="337.7" r="1.55"/><circle cx="333.1" cy="302.5" r="1.55"/><circle cx="333.5" cy="336.2" r="1.55"/><circle cx="328.9" cy="337.4" r="1.55"/><circle cx="332.7" cy="330.3" r="1.55"/><circle cx="334.0" cy="319.7" r="1.55"/><circle cx="334.2" cy="309.1" r="1.55"/><circle cx="328.5" cy="336.5" r="1.55"/><circle cx="332.3" cy="301.9" r="1.55"/><circle cx="328.9" cy="344.0" r="1.55"/><circle cx="332.8" cy="311.7" r="1.55"/><circle cx="333.6" cy="305.7" r="1.55"/><circle cx="328.8" cy="321.2" r="1.55"/><circle cx="331.9" cy="314.6" r="1.55"/><circle cx="332.5" cy="318.4" r="1.55"/><circle cx="333.2" cy="305.0" r="1.55"/><circle cx="332.3" cy="314.3" r="1.55"/><circle cx="330.9" cy="330.3" r="1.55"/><circle cx="333.1" cy="315.5" r="1.55"/><circle cx="333.1" cy="354.2" r="1.55"/><circle cx="330.2" cy="326.2" r="1.55"/><circle cx="334.3" cy="302.7" r="1.55"/><circle cx="333.4" cy="335.5" r="1.55"/><circle cx="332.0" cy="312.8" r="1.55"/><circle cx="333.4" cy="356.9" r="1.55"/><circle cx="330.3" cy="328.4" r="1.55"/><circle cx="333.7" cy="317.8" r="1.55"/><circle cx="332.5" cy="315.0" r="1.55"/><circle cx="333.8" cy="328.5" r="1.55"/><circle cx="330.1" cy="343.2" r="1.55"/><circle cx="330.0" cy="301.9" r="1.55"/><circle cx="341.9" cy="312.6" r="1.55"/><circle cx="346.7" cy="343.5" r="1.55"/><circle cx="342.8" cy="339.0" r="1.55"/><circle cx="345.6" cy="334.3" r="1.55"/><circle cx="343.0" cy="313.8" r="1.55"/><circle cx="341.8" cy="318.8" r="1.55"/><circle cx="342.0" cy="328.7" r="1.55"/><circle cx="341.9" cy="318.1" r="1.55"/><circle cx="341.1" cy="339.1" r="1.55"/><circle cx="342.2" cy="341.3" r="1.55"/><circle cx="346.6" cy="312.2" r="1.55"/><circle cx="346.6" cy="317.4" r="1.55"/><circle cx="346.4" cy="350.3" r="1.55"/><circle cx="343.7" cy="314.8" r="1.55"/><circle cx="346.6" cy="313.6" r="1.55"/><circle cx="344.8" cy="348.8" r="1.55"/><circle cx="343.1" cy="327.3" r="1.55"/><circle cx="343.9" cy="347.6" r="1.55"/><circle cx="341.9" cy="336.3" r="1.55"/><circle cx="341.4" cy="317.5" r="1.55"/><circle cx="344.3" cy="341.1" r="1.55"/><circle cx="346.2" cy="314.9" r="1.55"/><circle cx="343.5" cy="319.2" r="1.55"/><circle cx="342.6" cy="315.2" r="1.55"/><circle cx="343.0" cy="348.6" r="1.55"/><circle cx="344.0" cy="315.6" r="1.55"/><circle cx="346.4" cy="321.2" r="1.55"/><circle cx="346.9" cy="314.0" r="1.55"/><circle cx="346.4" cy="312.6" r="1.55"/><circle cx="342.3" cy="338.6" r="1.55"/><circle cx="342.7" cy="328.5" r="1.55"/><circle cx="342.2" cy="318.8" r="1.55"/><circle cx="355.2" cy="351.7" r="1.55"/><circle cx="358.6" cy="318.0" r="1.55"/><circle cx="354.6" cy="325.9" r="1.55"/><circle cx="357.2" cy="326.1" r="1.55"/><circle cx="356.7" cy="311.8" r="1.55"/><circle cx="356.7" cy="329.6" r="1.55"/><circle cx="357.9" cy="315.5" r="1.55"/><circle cx="358.8" cy="348.7" r="1.55"/><circle cx="357.9" cy="323.8" r="1.55"/><circle cx="358.1" cy="326.6" r="1.55"/><circle cx="358.9" cy="313.4" r="1.55"/><circle cx="356.6" cy="356.3" r="1.55"/><circle cx="356.8" cy="332.9" r="1.55"/><circle cx="353.8" cy="334.1" r="1.55"/><circle cx="355.0" cy="357.0" r="1.55"/><circle cx="354.2" cy="317.9" r="1.55"/><circle cx="358.5" cy="320.7" r="1.55"/><circle cx="354.2" cy="312.5" r="1.55"/><circle cx="354.8" cy="342.4" r="1.55"/><circle cx="357.2" cy="312.1" r="1.55"/><circle cx="356.8" cy="336.1" r="1.55"/><circle cx="354.2" cy="342.6" r="1.55"/></g>
<path d="M61.20 304.35 L65.78 305.26 L70.36 306.16 L74.94 307.03 L79.52 307.87 L84.11 308.67 L88.69 309.40 L93.27 310.06 L97.85 310.66 L102.43 311.23 L107.01 311.76 L111.59 312.28 L116.17 312.79 L120.75 313.29 L125.33 313.79 L129.92 314.28 L134.50 314.77 L139.08 315.25 L143.66 315.74 L148.24 316.22 L152.82 316.70 L157.40 317.18 L161.98 317.66 L166.56 318.14 L171.14 318.62 L175.72 319.10 L180.31 319.58 L184.89 320.06 L189.47 320.54 L194.05 321.01 L198.63 321.49 L203.21 321.97 L207.79 322.44 L212.37 322.92 L216.95 323.40 L221.54 323.88 L226.12 324.35 L230.70 324.83 L235.28 325.30 L239.86 325.78 L244.44 326.26 L244.44 342.49 L239.86 341.54 L235.28 340.60 L230.70 339.65 L226.12 338.70 L221.54 337.76 L216.95 336.81 L212.37 335.87 L207.79 334.92 L203.21 333.98 L198.63 333.03 L194.05 332.09 L189.47 331.15 L184.89 330.20 L180.31 329.26 L175.72 328.31 L171.14 327.37 L166.56 326.43 L161.98 325.49 L157.40 324.54 L152.82 323.60 L148.24 322.66 L143.66 321.72 L139.08 320.79 L134.50 319.85 L129.92 318.92 L125.33 317.99 L120.75 317.06 L116.17 316.14 L111.59 315.22 L107.01 314.32 L102.43 313.44 L97.85 312.58 L93.27 311.76 L88.69 311.00 L84.11 310.31 L79.52 309.68 L74.94 309.10 L70.36 308.55 L65.78 308.03 L61.20 307.51 Z" fill="#d4d4d4" fill-opacity="0.45"/>
<line x1="61.20" y1="305.93" x2="244.44" y2="334.37" stroke="#a8132f" stroke-width="1.3"/>
<path d="M318.80 292.87 L323.53 295.98 L328.26 299.08 L332.99 302.18 L337.72 305.28 L342.44 308.38 L347.17 311.47 L351.90 314.56 L356.63 317.64 L361.36 320.72 L366.09 323.80 L370.82 326.88 L375.55 329.95 L380.27 333.02 L385.00 336.09 L389.73 339.15 L394.46 342.21 L399.19 345.27 L403.92 348.33 L408.65 351.39 L413.38 354.44 L418.10 357.49 L422.83 360.55 L427.56 363.60 L432.29 366.64 L437.02 369.69 L441.75 372.74 L446.48 375.79 L451.21 378.83 L455.93 381.88 L460.66 384.92 L465.39 387.96 L470.12 391.01 L474.85 394.05 L479.58 397.09 L484.31 400.13 L489.03 403.17 L493.76 406.21 L498.49 409.25 L503.22 412.29 L507.95 415.33 L507.95 419.90 L503.22 416.76 L498.49 413.61 L493.76 410.47 L489.03 407.32 L484.31 404.18 L479.58 401.03 L474.85 397.89 L470.12 394.75 L465.39 391.61 L460.66 388.46 L455.93 385.32 L451.21 382.18 L446.48 379.04 L441.75 375.90 L437.02 372.77 L432.29 369.63 L427.56 366.49 L422.83 363.36 L418.10 360.22 L413.38 357.09 L408.65 353.96 L403.92 350.83 L399.19 347.70 L394.46 344.58 L389.73 341.46 L385.00 338.34 L380.27 335.22 L375.55 332.10 L370.82 328.99 L366.09 325.88 L361.36 322.77 L356.63 319.67 L351.90 316.57 L347.17 313.47 L342.44 310.38 L337.72 307.29 L332.99 304.20 L328.26 301.12 L323.53 298.04 L318.80 294.96 Z" fill="#cfe6f2" fill-opacity="0.6"/>
<line x1="318.80" y1="293.92" x2="507.95" y2="417.62" stroke="#3592c8" stroke-width="1.15"/>
<rect x="0.5" y="0.5" width="519" height="485" fill="none" stroke="#505050" stroke-width="1"/>
</svg>
</body></html>
